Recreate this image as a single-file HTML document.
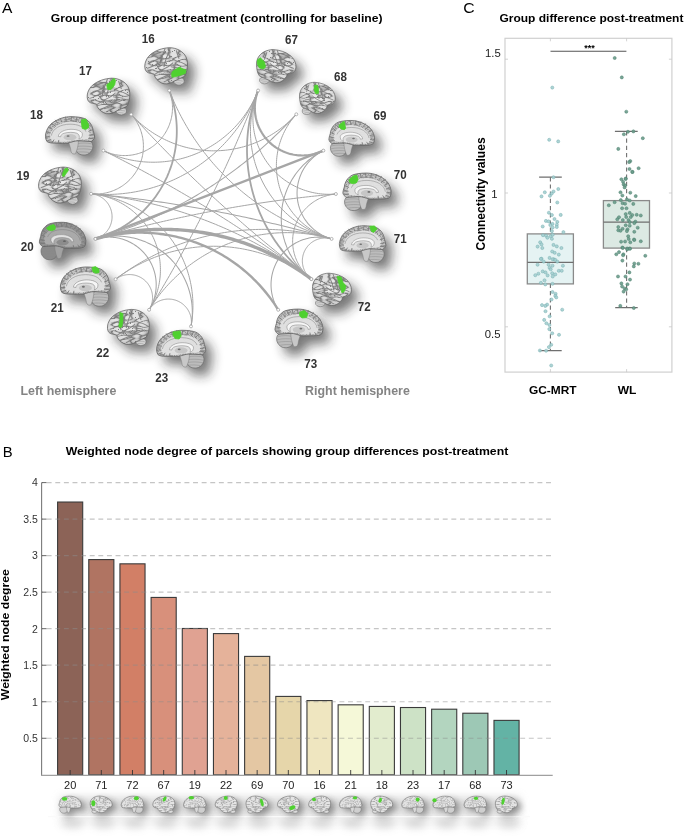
<!DOCTYPE html>
<html><head><meta charset="utf-8"><style>
html,body{margin:0;padding:0;background:#fff;}
svg{display:block;font-family:"Liberation Sans",sans-serif;will-change:transform;}
</style></head><body>
<svg width="685" height="836" viewBox="0 0 685 836">

<defs>
<filter id="gy" x="0" y="0" width="1" height="1">
  <feTurbulence type="turbulence" baseFrequency="0.05 0.085" numOctaves="1" seed="4" result="n"/>
  <feColorMatrix in="n" type="matrix" values="0 0 0 0 0  0 0 0 0 0  0 0 0 0 0  1 0 0 0 0" result="a"/>
  <feComponentTransfer in="a" result="b"><feFuncA type="table" tableValues="0.85 0.45 0.1 0 0 0 0 0 0 0"/></feComponentTransfer>
  <feGaussianBlur in="b" stdDeviation="0.7" result="bb"/>
  <feFlood flood-color="#6e6e6e"/>
  <feComposite in2="bb" operator="in" result="c"/>
  <feComposite in="c" in2="SourceAlpha" operator="in"/>
</filter>
<filter id="gy2" x="0" y="0" width="1" height="1">
  <feTurbulence type="fractalNoise" baseFrequency="0.05 0.08" numOctaves="2" seed="9" result="n"/>
  <feColorMatrix in="n" type="matrix" values="0 0 0 0 0  0 0 0 0 0  0 0 0 0 0  1 0 0 0 0" result="a"/>
  <feComponentTransfer in="a" result="b"><feFuncA type="table" tableValues="0 0 0.7 0 0 0.7 0 0 0.7 0 0 0.7 0 0 0.7 0 0 0.7 0 0 0.7 0 0"/></feComponentTransfer>
  <feFlood flood-color="#7a7a7a"/>
  <feComposite in2="b" operator="in" result="c"/>
  <feComposite in="c" in2="SourceAlpha" operator="in"/>
</filter>
<filter id="sh" x="-50%" y="-50%" width="200%" height="200%"><feGaussianBlur stdDeviation="6"/></filter>
<filter id="shs" x="-50%" y="-50%" width="200%" height="200%"><feGaussianBlur stdDeviation="3"/></filter>
<filter id="hz" x="-20%" y="-100%" width="140%" height="300%"><feGaussianBlur stdDeviation="4"/></filter>
<radialGradient id="gl" cx="45%" cy="40%" r="65%"><stop offset="0" stop-color="#eeeeee"/><stop offset="0.7" stop-color="#dddddd"/><stop offset="1" stop-color="#b4b4b4"/></radialGradient>
<radialGradient id="gm" cx="45%" cy="45%" r="65%"><stop offset="0" stop-color="#e4e4e4"/><stop offset="0.75" stop-color="#d0d0d0"/><stop offset="1" stop-color="#9a9a9a"/></radialGradient>
<radialGradient id="gd" cx="45%" cy="45%" r="65%"><stop offset="0" stop-color="#b8b8b8"/><stop offset="1" stop-color="#8a8a8a"/></radialGradient>
<path id="latO" d="M3,57 C0,45 4,30 14,19 C26,7 42,1 58,0 C75,0 90,10 96,24 C100,34 100,44 99,52 C98,62 96,70 92,76 C85,80 76,84 69,88 C62,94 54,96 46,95 C38,93 30,86 26,78 C24,74 24,71 24,70 C20,68 15,68 10,66 C6,64 4,61 3,57 Z"/>
<ellipse id="latCb" cx="80" cy="88" rx="12" ry="10.5"/>
<g id="latS" fill="none" stroke="#7a7a7a" stroke-width="2.6" stroke-linecap="round" stroke-linejoin="round" opacity="0.85">
<path d="M25,70 C34,62 44,56 52,52 C58,49 62,44 66,40"/>
<path d="M32,84 C44,78 54,72 64,68 C72,64 80,60 88,56"/>
<path d="M60,2 C57,12 54,20 51,28 C49,36 47,42 46,50"/>
<path d="M48,3 C46,12 43,20 40,28 C38,34 37,40 36,50"/>
<path d="M10,42 C16,38 22,36 28,32 C32,30 36,26 42,22"/>
<path d="M8,54 C14,52 20,48 26,46 C30,44 33,42 38,38"/>
<path d="M18,22 C24,18 30,15 38,12"/>
<path d="M74,8 C76,16 78,22 80,28"/>
<path d="M66,30 C72,34 78,38 84,38 C88,40 92,42 97,46"/>
<path d="M62,50 C70,52 76,52 84,54"/>
<path d="M78,74 C84,72 90,72 95,68"/>
<path d="M46,90 C54,86 60,82 66,78"/>
</g>
<path id="medO" d="M0,48 C2,30 10,20 16,15 C28,5 40,1 52,1 C64,1 74,3 80,6 C90,12 96,24 97,37 C99,44 100,50 100,53 C99,58 96,62 93,64 C85,64 75,62 67,62 C60,62 52,66 46,68 C40,69 30,68 19,68 C12,68 6,67 3,64 C0,58 0,52 0,48 Z"/>
<path id="medCb" d="M62,66 C70,59 87,59 94,66 C99,74 97,90 85,97 C77,100 68,98 64,90 C60,82 60,72 62,66 Z"/>
<path id="medBs" d="M44,58 C52,55 62,57 67,62 C67,72 65,84 61,95 C57,97 53,95 52,89 C51,79 48,68 44,58 Z"/>
<g id="medS" fill="none" stroke="#7a7a7a" stroke-width="2" stroke-linecap="round">
<path d="M20,10 L25,18 M30,5 L33,14 M41,2 L42,12 M53,2 L52,12 M64,3 L62,13 M75,6 L71,15 M85,12 L79,20 M92,22 L85,28 M96,34 L88,38 M98,46 L89,48 M97,56 L88,56 M12,18 L19,24 M6,28 L13,32 M2,40 L10,42 M1,52 L9,52 M4,62 L11,59 M14,66 L17,60 M26,67 L27,61"/>
<path d="M12,48 C14,32 30,20 50,20 C66,20 78,26 82,38" stroke-width="1.6" opacity="0.7"/>
</g>
<path id="medWM" d="M9,50 C10,34 26,16 48,14 C66,13 82,20 88,34 C91,42 90,52 87,58 C80,60 72,58 66,60 C58,60 50,62 44,64 C36,65 26,64 18,64 C12,63 9,58 9,50 Z"/>
<path id="medCC" d="M26,51 C27,40 40,33 52,33 C64,33 73,37 75,44 C76,50 73,56 68,58 C70,52 69,46 64,43 C57,40 46,40 38,43 C33,45 31,48 31,52 Z"/>
<ellipse id="medTh" cx="50" cy="53" rx="13" ry="8"/>
</defs>
<rect width="685" height="836" fill="#fff"/>
<text x="2.1" y="13.1" font-size="13.8" font-weight="normal" fill="#000" text-anchor="start" textLength="10.4" lengthAdjust="spacingAndGlyphs" >A</text>
<text x="50.8" y="21.6" font-size="11" font-weight="bold" fill="#000" text-anchor="start" textLength="331.7" lengthAdjust="spacingAndGlyphs" >Group difference post-treatment (controlling for baseline)</text>
<g filter="url(#sh)" opacity="0.62"><g transform="translate(7,8)"><g transform="translate(143.90,47.70) scale(0.4380,0.3800)" fill="#222"><use href="#latO"/><use href="#latCb"/></g></g></g>
<g transform="translate(143.90,47.70) scale(0.4380,0.3800)">
<use href="#latCb" fill="#d2d2d2" stroke="#6a6a6a" stroke-width="1.6"/>
<path d="M67,82 C74,80 82,80 88,82 M66,88 C74,86 82,86 89,88 M68,94 C74,92 80,92 86,94" fill="none" stroke="#9a9a9a" stroke-width="1.4"/>
<use href="#latO" fill="url(#gl)" stroke="#5a5a5a" stroke-width="1.8"/>
<use href="#latO" filter="url(#gy)"/>
<use href="#latS"/>
</g>
<path d="M171.5,74.2 L172.4,71.5 L179.4,67.1 L182.9,68.9 L186.0,69.8 L185.5,73.3 L181.2,75.0 L175.0,76.8 L172.0,77.2 Z" fill="#4fd130" stroke="#4fd130" stroke-width="0.8" stroke-linejoin="round"/>
<g filter="url(#sh)" opacity="0.62"><g transform="translate(7,8)"><g transform="translate(86.30,78.20) scale(0.4370,0.3730)" fill="#222"><use href="#latO"/><use href="#latCb"/></g></g></g>
<g transform="translate(86.30,78.20) scale(0.4370,0.3730)">
<use href="#latCb" fill="#d2d2d2" stroke="#6a6a6a" stroke-width="1.6"/>
<path d="M67,82 C74,80 82,80 88,82 M66,88 C74,86 82,86 89,88 M68,94 C74,92 80,92 86,94" fill="none" stroke="#9a9a9a" stroke-width="1.4"/>
<use href="#latO" fill="url(#gl)" stroke="#5a5a5a" stroke-width="1.8"/>
<use href="#latO" filter="url(#gy)"/>
<use href="#latS"/>
</g>
<path d="M106.7,84.8 L110.4,81.9 L114.0,78.2 L115.5,80.4 L114.7,84.8 L112.6,87.7 L110.4,89.9 L107.4,89.2 Z" fill="#4fd130" stroke="#4fd130" stroke-width="0.8" stroke-linejoin="round"/>
<g filter="url(#sh)" opacity="0.62"><g transform="translate(7,8)"><g transform="translate(45.50,116.30) scale(0.4910,0.3940)" fill="#222"><use href="#medO"/><use href="#medCb"/><use href="#medBs"/></g></g></g>
<g transform="translate(45.50,116.30) scale(0.4910,0.3940)">
<use href="#medCb" fill="#bcbcbc" stroke="#6a6a6a" stroke-width="1.6"/>
<path d="M64,70 C72,67 84,67 94,70 M62,77 C72,75 84,75 96,78 M62,84 C72,82 84,82 95,85 M65,91 C72,90 80,90 89,92" fill="none" stroke="#888" stroke-width="1.3" opacity="0.8"/>
<use href="#medBs" fill="#c8c8c8" stroke="#7a7a7a" stroke-width="1.1"/>
<use href="#medO" fill="#c4c4c4" stroke="#5a5a5a" stroke-width="1.8"/>
<use href="#medO" filter="url(#gy2)"/>
<use href="#medWM" fill="#e2e2e2" opacity="0.95"/>
<use href="#medS"/>
<use href="#medTh" fill="#c6c6c6"/>
<use href="#medCC" fill="#f6f6f6" stroke="#7a7a7a" stroke-width="1.1"/>
<ellipse cx="46" cy="50" rx="3" ry="2.2" fill="#5a5a5a" opacity="0.8"/>
</g>
<path d="M81.5,119.8 L85.8,118.9 L88.5,124.2 L88.5,127.7 L85.8,129.4 L82.3,128.5 L81.5,124.2 Z" fill="#4fd130" stroke="#4fd130" stroke-width="0.8" stroke-linejoin="round"/>
<g filter="url(#sh)" opacity="0.62"><g transform="translate(7,8)"><g transform="translate(37.70,167.10) scale(0.4380,0.3770)" fill="#222"><use href="#latO"/><use href="#latCb"/></g></g></g>
<g transform="translate(37.70,167.10) scale(0.4380,0.3770)">
<use href="#latCb" fill="#d2d2d2" stroke="#6a6a6a" stroke-width="1.6"/>
<path d="M67,82 C74,80 82,80 88,82 M66,88 C74,86 82,86 89,88 M68,94 C74,92 80,92 86,94" fill="none" stroke="#9a9a9a" stroke-width="1.4"/>
<use href="#latO" fill="url(#gl)" stroke="#5a5a5a" stroke-width="1.8"/>
<use href="#latO" filter="url(#gy)"/>
<use href="#latS"/>
</g>
<path d="M64.8,168.8 L67.4,168.0 L68.3,170.6 L65.7,174.1 L63.9,176.7 L62.2,175.8 L63.1,172.3 Z" fill="#4fd130" stroke="#4fd130" stroke-width="0.8" stroke-linejoin="round"/>
<g filter="url(#sh)" opacity="0.62"><g transform="translate(7,8)"><g transform="translate(85.80,221.90) scale(-0.4640,0.3850)" fill="#222"><use href="#medO"/><use href="#medCb"/><use href="#medBs"/></g></g></g>
<g transform="translate(85.80,221.90) scale(-0.4640,0.3850)">
<use href="#medCb" fill="#8a8a8a" stroke="#6a6a6a" stroke-width="1.6"/>
<path d="M64,70 C72,67 84,67 94,70 M62,77 C72,75 84,75 96,78 M62,84 C72,82 84,82 95,85 M65,91 C72,90 80,90 89,92" fill="none" stroke="#888" stroke-width="1.3" opacity="0.8"/>
<use href="#medBs" fill="#a2a2a2" stroke="#7a7a7a" stroke-width="1.1"/>
<use href="#medO" fill="#929292" stroke="#5a5a5a" stroke-width="1.8"/>
<use href="#medO" filter="url(#gy2)"/>
<use href="#medWM" fill="#acacac" opacity="0.95"/>
<use href="#medS"/>
<use href="#medTh" fill="#8c8c8c"/>
<use href="#medCC" fill="#e2e2e2" stroke="#7a7a7a" stroke-width="1.1"/>
<ellipse cx="46" cy="50" rx="3" ry="2.2" fill="#5a5a5a" opacity="0.8"/>
</g>
<path d="M46.4,228.1 L50.3,225.5 L53.8,224.5 L55.3,226.4 L55.1,229.4 L51.6,230.8 L48.1,229.9 Z" fill="#4fd130" stroke="#4fd130" stroke-width="0.8" stroke-linejoin="round"/>
<g filter="url(#sh)" opacity="0.62"><g transform="translate(7,8)"><g transform="translate(60.40,266.60) scale(0.5000,0.4030)" fill="#222"><use href="#medO"/><use href="#medCb"/><use href="#medBs"/></g></g></g>
<g transform="translate(60.40,266.60) scale(0.5000,0.4030)">
<use href="#medCb" fill="#bcbcbc" stroke="#6a6a6a" stroke-width="1.6"/>
<path d="M64,70 C72,67 84,67 94,70 M62,77 C72,75 84,75 96,78 M62,84 C72,82 84,82 95,85 M65,91 C72,90 80,90 89,92" fill="none" stroke="#888" stroke-width="1.3" opacity="0.8"/>
<use href="#medBs" fill="#c8c8c8" stroke="#7a7a7a" stroke-width="1.1"/>
<use href="#medO" fill="#c4c4c4" stroke="#5a5a5a" stroke-width="1.8"/>
<use href="#medO" filter="url(#gy2)"/>
<use href="#medWM" fill="#e2e2e2" opacity="0.95"/>
<use href="#medS"/>
<use href="#medTh" fill="#c6c6c6"/>
<use href="#medCC" fill="#f6f6f6" stroke="#7a7a7a" stroke-width="1.1"/>
<ellipse cx="46" cy="50" rx="3" ry="2.2" fill="#5a5a5a" opacity="0.8"/>
</g>
<path d="M92.0,267.4 L95.5,266.6 L99.0,269.2 L99.0,272.7 L95.5,273.2 L92.9,271.8 Z" fill="#4fd130" stroke="#4fd130" stroke-width="0.8" stroke-linejoin="round"/>
<g filter="url(#sh)" opacity="0.62"><g transform="translate(7,8)"><g transform="translate(106.60,309.40) scale(0.4290,0.3680)" fill="#222"><use href="#latO"/><use href="#latCb"/></g></g></g>
<g transform="translate(106.60,309.40) scale(0.4290,0.3680)">
<use href="#latCb" fill="#d2d2d2" stroke="#6a6a6a" stroke-width="1.6"/>
<path d="M67,82 C74,80 82,80 88,82 M66,88 C74,86 82,86 89,88 M68,94 C74,92 80,92 86,94" fill="none" stroke="#9a9a9a" stroke-width="1.4"/>
<use href="#latO" fill="url(#gl)" stroke="#5a5a5a" stroke-width="1.8"/>
<use href="#latO" filter="url(#gy)"/>
<use href="#latS"/>
</g>
<path d="M119.9,312.5 L122.9,313.5 L122.9,320.7 L121.9,326.8 L119.9,327.8 L118.8,325.8 L119.9,320.7 Z" fill="#4fd130" stroke="#4fd130" stroke-width="0.8" stroke-linejoin="round"/>
<g filter="url(#sh)" opacity="0.62"><g transform="translate(7,8)"><g transform="translate(156.60,329.90) scale(0.4910,0.3880)" fill="#222"><use href="#medO"/><use href="#medCb"/><use href="#medBs"/></g></g></g>
<g transform="translate(156.60,329.90) scale(0.4910,0.3880)">
<use href="#medCb" fill="#bcbcbc" stroke="#6a6a6a" stroke-width="1.6"/>
<path d="M64,70 C72,67 84,67 94,70 M62,77 C72,75 84,75 96,78 M62,84 C72,82 84,82 95,85 M65,91 C72,90 80,90 89,92" fill="none" stroke="#888" stroke-width="1.3" opacity="0.8"/>
<use href="#medBs" fill="#c8c8c8" stroke="#7a7a7a" stroke-width="1.1"/>
<use href="#medO" fill="#c4c4c4" stroke="#5a5a5a" stroke-width="1.8"/>
<use href="#medO" filter="url(#gy2)"/>
<use href="#medWM" fill="#e2e2e2" opacity="0.95"/>
<use href="#medS"/>
<use href="#medTh" fill="#c6c6c6"/>
<use href="#medCC" fill="#f6f6f6" stroke="#7a7a7a" stroke-width="1.1"/>
<ellipse cx="46" cy="50" rx="3" ry="2.2" fill="#5a5a5a" opacity="0.8"/>
</g>
<path d="M173.0,331.9 L180.1,330.9 L181.2,336.0 L179.1,339.0 L175.0,338.6 L173.0,335.0 Z" fill="#4fd130" stroke="#4fd130" stroke-width="0.8" stroke-linejoin="round"/>
<g filter="url(#sh)" opacity="0.62"><g transform="translate(7,8)"><g transform="translate(296.80,49.60) scale(-0.4050,0.3480)" fill="#222"><use href="#latO"/><use href="#latCb"/></g></g></g>
<g transform="translate(296.80,49.60) scale(-0.4050,0.3480)">
<use href="#latCb" fill="#d2d2d2" stroke="#6a6a6a" stroke-width="1.6"/>
<path d="M67,82 C74,80 82,80 88,82 M66,88 C74,86 82,86 89,88 M68,94 C74,92 80,92 86,94" fill="none" stroke="#9a9a9a" stroke-width="1.4"/>
<use href="#latO" fill="url(#gl)" stroke="#5a5a5a" stroke-width="1.8"/>
<use href="#latO" filter="url(#gy)"/>
<use href="#latS"/>
</g>
<path d="M257.4,59.9 L260.4,57.8 L264.5,61.9 L265.5,67.0 L263.5,69.0 L259.4,68.0 L257.4,63.9 Z" fill="#4fd130" stroke="#4fd130" stroke-width="0.8" stroke-linejoin="round"/>
<g filter="url(#sh)" opacity="0.62"><g transform="translate(7,8)"><g transform="translate(336.00,82.30) scale(-0.3670,0.3270)" fill="#222"><use href="#latO"/><use href="#latCb"/></g></g></g>
<g transform="translate(336.00,82.30) scale(-0.3670,0.3270)">
<use href="#latCb" fill="#d2d2d2" stroke="#6a6a6a" stroke-width="1.6"/>
<path d="M67,82 C74,80 82,80 88,82 M66,88 C74,86 82,86 89,88 M68,94 C74,92 80,92 86,94" fill="none" stroke="#9a9a9a" stroke-width="1.4"/>
<use href="#latO" fill="url(#gl)" stroke="#5a5a5a" stroke-width="1.8"/>
<use href="#latO" filter="url(#gy)"/>
<use href="#latS"/>
</g>
<path d="M314.6,85.4 L317.3,85.0 L318.7,89.5 L318.3,93.6 L315.6,93.6 L314.0,89.5 Z" fill="#4fd130" stroke="#4fd130" stroke-width="0.8" stroke-linejoin="round"/>
<g filter="url(#sh)" opacity="0.62"><g transform="translate(7,8)"><g transform="translate(374.50,120.10) scale(-0.4560,0.3680)" fill="#222"><use href="#medO"/><use href="#medCb"/><use href="#medBs"/></g></g></g>
<g transform="translate(374.50,120.10) scale(-0.4560,0.3680)">
<use href="#medCb" fill="#bcbcbc" stroke="#6a6a6a" stroke-width="1.6"/>
<path d="M64,70 C72,67 84,67 94,70 M62,77 C72,75 84,75 96,78 M62,84 C72,82 84,82 95,85 M65,91 C72,90 80,90 89,92" fill="none" stroke="#888" stroke-width="1.3" opacity="0.8"/>
<use href="#medBs" fill="#c8c8c8" stroke="#7a7a7a" stroke-width="1.1"/>
<use href="#medO" fill="#c4c4c4" stroke="#5a5a5a" stroke-width="1.8"/>
<use href="#medO" filter="url(#gy2)"/>
<use href="#medWM" fill="#e2e2e2" opacity="0.95"/>
<use href="#medS"/>
<use href="#medTh" fill="#c6c6c6"/>
<use href="#medCC" fill="#f6f6f6" stroke="#7a7a7a" stroke-width="1.1"/>
<ellipse cx="46" cy="50" rx="3" ry="2.2" fill="#5a5a5a" opacity="0.8"/>
</g>
<path d="M339.1,125.1 L343.0,121.8 L344.3,121.6 L345.7,128.4 L344.3,129.7 L341.1,129.1 L339.1,127.1 Z" fill="#4fd130" stroke="#4fd130" stroke-width="0.8" stroke-linejoin="round"/>
<g filter="url(#sh)" opacity="0.62"><g transform="translate(7,8)"><g transform="translate(391.10,172.70) scale(-0.4820,0.3850)" fill="#222"><use href="#medO"/><use href="#medCb"/><use href="#medBs"/></g></g></g>
<g transform="translate(391.10,172.70) scale(-0.4820,0.3850)">
<use href="#medCb" fill="#bcbcbc" stroke="#6a6a6a" stroke-width="1.6"/>
<path d="M64,70 C72,67 84,67 94,70 M62,77 C72,75 84,75 96,78 M62,84 C72,82 84,82 95,85 M65,91 C72,90 80,90 89,92" fill="none" stroke="#888" stroke-width="1.3" opacity="0.8"/>
<use href="#medBs" fill="#c8c8c8" stroke="#7a7a7a" stroke-width="1.1"/>
<use href="#medO" fill="#c4c4c4" stroke="#5a5a5a" stroke-width="1.8"/>
<use href="#medO" filter="url(#gy2)"/>
<use href="#medWM" fill="#e2e2e2" opacity="0.95"/>
<use href="#medS"/>
<use href="#medTh" fill="#c6c6c6"/>
<use href="#medCC" fill="#f6f6f6" stroke="#7a7a7a" stroke-width="1.1"/>
<ellipse cx="46" cy="50" rx="3" ry="2.2" fill="#5a5a5a" opacity="0.8"/>
</g>
<path d="M348.9,179.7 L353.6,175.8 L356.8,175.1 L358.2,179.7 L356.2,183.0 L352.2,183.7 L349.6,182.4 Z" fill="#4fd130" stroke="#4fd130" stroke-width="0.8" stroke-linejoin="round"/>
<g filter="url(#sh)" opacity="0.62"><g transform="translate(7,8)"><g transform="translate(339.40,225.40) scale(0.4640,0.3770)" fill="#222"><use href="#medO"/><use href="#medCb"/><use href="#medBs"/></g></g></g>
<g transform="translate(339.40,225.40) scale(0.4640,0.3770)">
<use href="#medCb" fill="#bcbcbc" stroke="#6a6a6a" stroke-width="1.6"/>
<path d="M64,70 C72,67 84,67 94,70 M62,77 C72,75 84,75 96,78 M62,84 C72,82 84,82 95,85 M65,91 C72,90 80,90 89,92" fill="none" stroke="#888" stroke-width="1.3" opacity="0.8"/>
<use href="#medBs" fill="#c8c8c8" stroke="#7a7a7a" stroke-width="1.1"/>
<use href="#medO" fill="#c4c4c4" stroke="#5a5a5a" stroke-width="1.8"/>
<use href="#medO" filter="url(#gy2)"/>
<use href="#medWM" fill="#e2e2e2" opacity="0.95"/>
<use href="#medS"/>
<use href="#medTh" fill="#c6c6c6"/>
<use href="#medCC" fill="#f6f6f6" stroke="#7a7a7a" stroke-width="1.1"/>
<ellipse cx="46" cy="50" rx="3" ry="2.2" fill="#5a5a5a" opacity="0.8"/>
</g>
<path d="M369.7,226.3 L374.5,225.9 L377.1,228.9 L373.6,232.4 L371.5,231.5 Z" fill="#4fd130" stroke="#4fd130" stroke-width="0.8" stroke-linejoin="round"/>
<g filter="url(#sh)" opacity="0.62"><g transform="translate(7,8)"><g transform="translate(352.20,273.20) scale(-0.3990,0.3400)" fill="#222"><use href="#latO"/><use href="#latCb"/></g></g></g>
<g transform="translate(352.20,273.20) scale(-0.3990,0.3400)">
<use href="#latCb" fill="#d2d2d2" stroke="#6a6a6a" stroke-width="1.6"/>
<path d="M67,82 C74,80 82,80 88,82 M66,88 C74,86 82,86 89,88 M68,94 C74,92 80,92 86,94" fill="none" stroke="#9a9a9a" stroke-width="1.4"/>
<use href="#latO" fill="url(#gl)" stroke="#5a5a5a" stroke-width="1.8"/>
<use href="#latO" filter="url(#gy)"/>
<use href="#latS"/>
</g>
<path d="M337.1,276.2 L341.2,277.1 L342.9,282.3 L345.9,285.8 L344.7,291.1 L342.0,292.9 L340.3,287.6 L338.5,282.3 Z" fill="#4fd130" stroke="#4fd130" stroke-width="0.8" stroke-linejoin="round"/>
<g filter="url(#sh)" opacity="0.62"><g transform="translate(7,8)"><g transform="translate(322.90,308.70) scale(-0.4790,0.3970)" fill="#222"><use href="#medO"/><use href="#medCb"/><use href="#medBs"/></g></g></g>
<g transform="translate(322.90,308.70) scale(-0.4790,0.3970)">
<use href="#medCb" fill="#bcbcbc" stroke="#6a6a6a" stroke-width="1.6"/>
<path d="M64,70 C72,67 84,67 94,70 M62,77 C72,75 84,75 96,78 M62,84 C72,82 84,82 95,85 M65,91 C72,90 80,90 89,92" fill="none" stroke="#888" stroke-width="1.3" opacity="0.8"/>
<use href="#medBs" fill="#c8c8c8" stroke="#7a7a7a" stroke-width="1.1"/>
<use href="#medO" fill="#c4c4c4" stroke="#5a5a5a" stroke-width="1.8"/>
<use href="#medO" filter="url(#gy2)"/>
<use href="#medWM" fill="#e2e2e2" opacity="0.95"/>
<use href="#medS"/>
<use href="#medTh" fill="#c6c6c6"/>
<use href="#medCC" fill="#f6f6f6" stroke="#7a7a7a" stroke-width="1.1"/>
<ellipse cx="46" cy="50" rx="3" ry="2.2" fill="#5a5a5a" opacity="0.8"/>
</g>
<path d="M299.6,312.2 L304.2,310.6 L307.7,313.4 L306.6,317.6 L301.9,318.0 L299.6,315.7 Z" fill="#4fd130" stroke="#4fd130" stroke-width="0.8" stroke-linejoin="round"/>
<g fill="none" stroke="#a6a6a6" stroke-linecap="round">
<path d="M95.40,238.90 L98.14,238.13 L100.89,237.39 L103.65,236.69 L106.42,236.01 L109.19,235.37 L111.97,234.76 L114.76,234.18 L117.55,233.63 L120.35,233.12 L123.16,232.64 L125.97,232.19 L128.79,231.78 L131.61,231.40 L134.44,231.05 L137.27,230.73 L140.10,230.44 L142.94,230.19 L145.77,229.97 L148.62,229.79 L151.46,229.64 L154.30,229.52 L157.15,229.43 L160.00,229.38 L162.84,229.35 L165.69,229.37 L168.54,229.41 L171.38,229.49 L174.23,229.60 L177.07,229.75 L179.91,229.92 L182.75,230.13 L185.59,230.38 L188.42,230.65 L191.26,230.96 L194.08,231.30 L196.90,231.68 L199.72,232.08 L202.54,232.52 L205.34,233.00 L208.15,233.50 L210.94,234.04 L213.73,234.61 L216.51,235.21 L219.29,235.84 L222.06,236.51 L224.82,237.21 L227.57,237.94 L230.31,238.70 L233.05,239.49 L235.77,240.32 L238.49,241.18 L241.19,242.07 L243.89,242.98 L246.57,243.94 L249.25,244.92 L251.91,245.93 L254.56,246.97 L257.19,248.05 L259.82,249.15 L262.43,250.29 L265.03,251.45 L267.61,252.65 L270.18,253.87 L272.74,255.13 L275.28,256.41 L277.80,257.73 L280.31,259.07 L282.81,260.44 L285.29,261.84 L287.75,263.27 L290.20,264.73 L292.62,266.22 L295.04,267.73 L297.43,269.27 L299.80,270.84 L302.16,272.44 L304.50,274.07 L306.82,275.72 L309.12,277.40 L311.40,279.10" stroke-width="3.4"/>
<path d="M95.40,238.90 L97.94,238.20 L100.48,237.53 L103.04,236.91 L105.61,236.34 L108.18,235.80 L110.77,235.30 L113.36,234.85 L115.96,234.44 L118.56,234.07 L121.18,233.74 L123.79,233.46 L126.41,233.21 L129.04,233.01 L131.66,232.86 L134.29,232.74 L136.92,232.67 L139.55,232.64 L142.18,232.66 L144.82,232.71 L147.45,232.81 L150.07,232.95 L152.70,233.14 L155.32,233.36 L157.94,233.63 L160.55,233.94 L163.16,234.30 L165.76,234.69 L168.35,235.13 L170.94,235.61 L173.52,236.13 L176.09,236.70 L178.65,237.30 L181.20,237.95 L183.74,238.64 L186.27,239.37 L188.79,240.14 L191.29,240.95 L193.78,241.80 L196.26,242.69 L198.72,243.62 L201.16,244.59 L203.59,245.61 L206.01,246.66 L208.40,247.75 L210.78,248.87 L213.14,250.04 L215.48,251.24 L217.80,252.49 L220.10,253.77 L222.37,255.08 L224.63,256.44 L226.87,257.83 L229.08,259.25 L231.27,260.71 L233.43,262.21 L235.57,263.74 L237.68,265.31 L239.77,266.91 L241.84,268.54 L243.87,270.21 L245.88,271.91 L247.86,273.64 L249.81,275.41 L251.74,277.20 L253.63,279.03 L255.50,280.89 L257.33,282.77 L259.13,284.69 L260.90,286.64 L262.64,288.61 L264.35,290.61 L266.03,292.64 L267.67,294.70 L269.28,296.78 L270.85,298.89 L272.39,301.02 L273.90,303.18 L275.37,305.36 L276.80,307.57 L278.20,309.80" stroke-width="2.4"/>
<path d="M95.40,238.90 L323.40,150.60" stroke-width="2.4"/>
<path d="M258.10,90.50 L257.60,91.84 L257.14,93.19 L256.72,94.56 L256.34,95.93 L256.00,97.32 L255.70,98.72 L255.45,100.12 L255.23,101.54 L255.07,102.96 L254.94,104.38 L254.85,105.81 L254.81,107.23 L254.81,108.66 L254.86,110.09 L254.95,111.52 L255.08,112.94 L255.25,114.36 L255.47,115.77 L255.72,117.18 L256.02,118.57 L256.36,119.96 L256.75,121.34 L257.17,122.70 L257.64,124.05 L258.14,125.39 L258.69,126.71 L259.27,128.01 L259.90,129.30 L260.56,130.57 L261.26,131.81 L261.99,133.04 L262.77,134.24 L263.57,135.42 L264.42,136.57 L265.30,137.70 L266.21,138.80 L267.15,139.87 L268.13,140.91 L269.13,141.93 L270.17,142.91 L271.24,143.86 L272.33,144.78 L273.45,145.67 L274.60,146.52 L275.77,147.34 L276.97,148.12 L278.19,148.86 L279.43,149.57 L280.69,150.24 L281.97,150.87 L283.27,151.47 L284.59,152.02 L285.92,152.54 L287.27,153.01 L288.63,153.45 L290.00,153.84 L291.39,154.19 L292.78,154.50 L294.18,154.77 L295.60,154.99 L297.01,155.18 L298.43,155.32 L299.86,155.42 L301.29,155.47 L302.72,155.48 L304.14,155.45 L305.57,155.38 L307.00,155.26 L308.42,155.10 L309.83,154.90 L311.24,154.66 L312.64,154.37 L314.03,154.04 L315.41,153.67 L316.78,153.26 L318.13,152.81 L319.47,152.32 L320.80,151.78 L322.11,151.21 L323.40,150.60" stroke-width="2.2"/>
<path d="M169.30,90.50 L170.12,92.68 L170.89,94.88 L171.61,97.10 L172.29,99.33 L172.92,101.57 L173.50,103.83 L174.04,106.10 L174.53,108.37 L174.98,110.66 L175.37,112.96 L175.72,115.26 L176.02,117.57 L176.27,119.89 L176.48,122.21 L176.63,124.54 L176.74,126.87 L176.80,129.20 L176.81,131.53 L176.77,133.86 L176.69,136.19 L176.56,138.51 L176.37,140.84 L176.14,143.16 L175.86,145.47 L175.54,147.78 L175.16,150.08 L174.74,152.37 L174.27,154.65 L173.76,156.93 L173.19,159.19 L172.58,161.44 L171.93,163.67 L171.22,165.90 L170.47,168.10 L169.68,170.29 L168.84,172.47 L167.95,174.62 L167.03,176.76 L166.05,178.88 L165.03,180.98 L163.97,183.05 L162.87,185.10 L161.72,187.13 L160.54,189.14 L159.31,191.12 L158.04,193.07 L156.73,195.00 L155.38,196.90 L153.99,198.77 L152.56,200.62 L151.10,202.43 L149.59,204.21 L148.06,205.96 L146.48,207.68 L144.87,209.36 L143.23,211.01 L141.55,212.63 L139.83,214.21 L138.09,215.76 L136.31,217.27 L134.51,218.74 L132.67,220.17 L130.80,221.57 L128.91,222.92 L126.98,224.24 L125.03,225.52 L123.06,226.75 L121.06,227.95 L119.03,229.10 L116.98,230.21 L114.91,231.28 L112.82,232.31 L110.70,233.29 L108.57,234.22 L106.42,235.12 L104.25,235.96 L102.06,236.77 L99.85,237.52 L97.63,238.24 L95.40,238.90" stroke-width="1.8"/>
<path d="M169.30,90.50 L169.80,91.85 L170.25,93.21 L170.66,94.58 L171.04,95.97 L171.37,97.36 L171.66,98.77 L171.90,100.18 L172.11,101.60 L172.27,103.03 L172.39,104.46 L172.46,105.89 L172.50,107.32 L172.49,108.76 L172.43,110.19 L172.34,111.62 L172.20,113.05 L172.02,114.47 L171.79,115.89 L171.53,117.30 L171.22,118.70 L170.87,120.09 L170.48,121.47 L170.04,122.84 L169.57,124.20 L169.05,125.54 L168.50,126.86 L167.90,128.16 L167.27,129.45 L166.60,130.72 L165.89,131.97 L165.15,133.19 L164.36,134.40 L163.55,135.58 L162.69,136.73 L161.81,137.86 L160.89,138.96 L159.93,140.03 L158.95,141.07 L157.93,142.09 L156.89,143.07 L155.81,144.02 L154.71,144.94 L153.58,145.82 L152.43,146.67 L151.25,147.49 L150.04,148.27 L148.81,149.01 L147.56,149.72 L146.29,150.39 L145.01,151.02 L143.70,151.61 L142.37,152.16 L141.03,152.67 L139.68,153.14 L138.31,153.57 L136.93,153.96 L135.54,154.31 L134.14,154.62 L132.73,154.88 L131.31,155.10 L129.88,155.28 L128.46,155.42 L127.02,155.51 L125.59,155.56 L124.16,155.57 L122.72,155.53 L121.29,155.45 L119.86,155.33 L118.43,155.16 L117.01,154.96 L115.60,154.71 L114.20,154.42 L112.80,154.08 L111.42,153.71 L110.04,153.29 L108.68,152.83 L107.34,152.33 L106.01,151.80 L104.70,151.22 L103.40,150.60" stroke-width="1.0"/>
<path d="M169.30,90.50 L170.34,93.15 L171.41,95.79 L172.52,98.42 L173.65,101.03 L174.81,103.63 L176.01,106.22 L177.23,108.79 L178.48,111.35 L179.76,113.90 L181.08,116.43 L182.42,118.94 L183.79,121.44 L185.18,123.92 L186.61,126.39 L188.06,128.84 L189.55,131.27 L191.06,133.68 L192.60,136.08 L194.16,138.46 L195.76,140.82 L197.38,143.17 L199.03,145.49 L200.70,147.80 L202.40,150.08 L204.13,152.35 L205.88,154.59 L207.66,156.82 L209.46,159.02 L211.29,161.21 L213.15,163.37 L215.03,165.51 L216.93,167.63 L218.86,169.73 L220.81,171.80 L222.79,173.85 L224.79,175.88 L226.81,177.89 L228.86,179.87 L230.93,181.83 L233.02,183.76 L235.13,185.67 L237.27,187.56 L239.43,189.42 L241.61,191.26 L243.80,193.07 L246.02,194.85 L248.27,196.61 L250.53,198.34 L252.81,200.05 L255.11,201.73 L257.43,203.39 L259.77,205.01 L262.12,206.62 L264.50,208.19 L266.89,209.73 L269.30,211.25 L271.73,212.74 L274.18,214.20 L276.64,215.64 L279.12,217.04 L281.61,218.42 L284.12,219.77 L286.65,221.08 L289.19,222.37 L291.74,223.63 L294.31,224.86 L296.90,226.06 L299.49,227.24 L302.10,228.38 L304.73,229.49 L307.36,230.57 L310.01,231.62 L312.67,232.64 L315.34,233.62 L318.03,234.58 L320.72,235.51 L323.43,236.40 L326.14,237.27 L328.87,238.10 L331.60,238.90" stroke-width="1.0"/>
<path d="M131.20,114.40 L132.14,115.48 L133.05,116.59 L133.92,117.72 L134.76,118.88 L135.57,120.06 L136.34,121.27 L137.07,122.50 L137.76,123.75 L138.42,125.02 L139.04,126.31 L139.62,127.62 L140.16,128.95 L140.66,130.29 L141.12,131.64 L141.54,133.01 L141.92,134.39 L142.25,135.78 L142.55,137.18 L142.80,138.59 L143.01,140.01 L143.18,141.43 L143.30,142.86 L143.38,144.28 L143.42,145.72 L143.42,147.15 L143.37,148.58 L143.28,150.01 L143.15,151.43 L142.97,152.85 L142.76,154.27 L142.50,155.67 L142.19,157.07 L141.85,158.46 L141.46,159.84 L141.04,161.21 L140.57,162.56 L140.06,163.90 L139.52,165.22 L138.93,166.53 L138.30,167.81 L137.64,169.08 L136.94,170.33 L136.20,171.55 L135.42,172.76 L134.61,173.94 L133.76,175.09 L132.88,176.22 L131.97,177.32 L131.02,178.39 L130.04,179.44 L129.03,180.45 L128.00,181.44 L126.93,182.39 L125.83,183.31 L124.71,184.20 L123.56,185.05 L122.38,185.87 L121.18,186.65 L119.96,187.40 L118.72,188.10 L117.46,188.78 L116.17,189.41 L114.87,190.00 L113.55,190.56 L112.21,191.07 L110.86,191.55 L109.50,191.98 L108.12,192.38 L106.74,192.73 L105.34,193.04 L103.93,193.31 L102.52,193.53 L101.10,193.72 L99.68,193.86 L98.25,193.95 L96.82,194.01 L95.39,194.02 L93.96,193.99 L92.53,193.92 L91.10,193.80" stroke-width="1.0"/>
<path d="M131.20,114.40 L132.78,116.10 L134.40,117.77 L136.05,119.40 L137.74,121.00 L139.46,122.56 L141.21,124.09 L142.99,125.58 L144.80,127.03 L146.64,128.44 L148.52,129.82 L150.41,131.15 L152.34,132.45 L154.30,133.71 L156.27,134.92 L158.28,136.10 L160.31,137.23 L162.36,138.32 L164.43,139.36 L166.53,140.37 L168.64,141.33 L170.78,142.24 L172.93,143.11 L175.10,143.94 L177.29,144.72 L179.49,145.45 L181.71,146.14 L183.94,146.79 L186.19,147.38 L188.44,147.93 L190.71,148.43 L192.99,148.89 L195.28,149.29 L197.57,149.65 L199.87,149.97 L202.18,150.23 L204.49,150.44 L206.81,150.61 L209.13,150.73 L211.45,150.80 L213.77,150.83 L216.09,150.80 L218.42,150.73 L220.74,150.60 L223.05,150.43 L225.36,150.22 L227.67,149.95 L229.97,149.63 L232.27,149.27 L234.55,148.86 L236.83,148.40 L239.10,147.90 L241.35,147.35 L243.60,146.75 L245.83,146.10 L248.05,145.41 L250.25,144.68 L252.44,143.89 L254.61,143.06 L256.76,142.19 L258.89,141.27 L261.01,140.31 L263.10,139.31 L265.17,138.26 L267.22,137.16 L269.25,136.03 L271.25,134.85 L273.23,133.64 L275.18,132.38 L277.11,131.08 L279.00,129.74 L280.87,128.36 L282.71,126.94 L284.52,125.49 L286.30,124.00 L288.05,122.47 L289.77,120.91 L291.45,119.31 L293.10,117.67 L294.72,116.00 L296.30,114.30" stroke-width="1.0"/>
<path d="M131.20,114.40 L133.26,116.66 L135.32,118.91 L137.39,121.16 L139.46,123.41 L141.54,125.65 L143.62,127.88 L145.71,130.11 L147.81,132.34 L149.91,134.56 L152.01,136.78 L154.12,138.99 L156.24,141.19 L158.36,143.40 L160.48,145.59 L162.61,147.78 L164.75,149.97 L166.89,152.15 L169.03,154.33 L171.18,156.50 L173.34,158.67 L175.50,160.83 L177.66,162.98 L179.83,165.14 L182.01,167.28 L184.19,169.42 L186.37,171.56 L188.56,173.69 L190.76,175.82 L192.96,177.94 L195.16,180.05 L197.37,182.16 L199.59,184.27 L201.81,186.37 L204.03,188.47 L206.26,190.56 L208.49,192.64 L210.73,194.72 L212.98,196.80 L215.23,198.87 L217.48,200.93 L219.74,202.99 L222.00,205.04 L224.27,207.09 L226.54,209.14 L228.82,211.17 L231.10,213.21 L233.39,215.23 L235.68,217.26 L237.97,219.27 L240.27,221.28 L242.58,223.29 L244.89,225.29 L247.20,227.29 L249.52,229.28 L251.85,231.26 L254.17,233.24 L256.51,235.21 L258.84,237.18 L261.19,239.15 L263.53,241.10 L265.88,243.06 L268.24,245.00 L270.60,246.94 L272.96,248.88 L275.33,250.81 L277.71,252.74 L280.09,254.65 L282.47,256.57 L284.86,258.48 L287.25,260.38 L289.64,262.28 L292.04,264.17 L294.45,266.05 L296.86,267.93 L299.27,269.81 L301.69,271.68 L304.11,273.54 L306.53,275.40 L308.97,277.25 L311.40,279.10" stroke-width="1.0"/>
<path d="M103.40,150.60 L105.50,151.61 L107.63,152.58 L109.77,153.50 L111.93,154.38 L114.11,155.21 L116.30,156.00 L118.51,156.74 L120.74,157.44 L122.98,158.09 L125.23,158.69 L127.50,159.25 L129.78,159.76 L132.06,160.22 L134.36,160.64 L136.66,161.00 L138.97,161.32 L141.29,161.59 L143.61,161.82 L145.94,161.99 L148.27,162.12 L150.60,162.20 L152.93,162.23 L155.26,162.21 L157.60,162.14 L159.93,162.03 L162.25,161.86 L164.58,161.65 L166.89,161.39 L169.21,161.09 L171.51,160.73 L173.81,160.33 L176.10,159.88 L178.38,159.38 L180.65,158.83 L182.90,158.24 L185.15,157.60 L187.38,156.92 L189.59,156.19 L191.79,155.41 L193.97,154.59 L196.14,153.72 L198.29,152.81 L200.41,151.85 L202.52,150.85 L204.61,149.81 L206.67,148.72 L208.71,147.59 L210.73,146.42 L212.72,145.21 L214.69,143.96 L216.63,142.66 L218.55,141.33 L220.43,139.95 L222.29,138.54 L224.11,137.09 L225.91,135.60 L227.68,134.08 L229.41,132.52 L231.11,130.92 L232.78,129.29 L234.41,127.62 L236.01,125.92 L237.57,124.19 L239.10,122.43 L240.58,120.63 L242.04,118.80 L243.45,116.95 L244.82,115.06 L246.16,113.15 L247.46,111.21 L248.71,109.24 L249.92,107.25 L251.10,105.24 L252.23,103.20 L253.31,101.13 L254.36,99.05 L255.36,96.94 L256.32,94.81 L257.23,92.67 L258.10,90.50" stroke-width="1.0"/>
<path d="M103.40,150.60 L106.14,151.96 L108.88,153.32 L111.62,154.70 L114.35,156.07 L117.08,157.46 L119.81,158.85 L122.53,160.25 L125.25,161.65 L127.96,163.06 L130.68,164.48 L133.39,165.90 L136.09,167.33 L138.80,168.77 L141.50,170.21 L144.19,171.66 L146.88,173.12 L149.57,174.58 L152.26,176.05 L154.94,177.52 L157.62,179.00 L160.30,180.49 L162.97,181.98 L165.63,183.48 L168.30,184.99 L170.96,186.50 L173.62,188.02 L176.27,189.54 L178.92,191.07 L181.57,192.61 L184.21,194.16 L186.85,195.71 L189.49,197.26 L192.12,198.82 L194.75,200.39 L197.37,201.97 L199.99,203.55 L202.61,205.13 L205.22,206.73 L207.83,208.33 L210.44,209.93 L213.04,211.54 L215.64,213.16 L218.23,214.79 L220.82,216.42 L223.41,218.05 L225.99,219.69 L228.57,221.34 L231.15,223.00 L233.72,224.66 L236.28,226.33 L238.85,228.00 L241.41,229.68 L243.96,231.36 L246.51,233.05 L249.06,234.75 L251.60,236.45 L254.14,238.16 L256.68,239.88 L259.21,241.60 L261.74,243.32 L264.26,245.06 L266.78,246.80 L269.29,248.54 L271.80,250.29 L274.31,252.05 L276.81,253.81 L279.31,255.58 L281.80,257.35 L284.29,259.13 L286.78,260.92 L289.26,262.71 L291.74,264.51 L294.21,266.31 L296.68,268.12 L299.14,269.94 L301.60,271.76 L304.06,273.58 L306.51,275.42 L308.96,277.26 L311.40,279.10" stroke-width="1.0"/>
<path d="M91.10,193.80 L93.72,194.02 L96.35,194.20 L98.98,194.33 L101.61,194.42 L104.25,194.47 L106.88,194.48 L109.51,194.44 L112.15,194.36 L114.78,194.24 L117.41,194.08 L120.03,193.88 L122.65,193.63 L125.27,193.34 L127.88,193.01 L130.49,192.63 L133.09,192.22 L135.68,191.76 L138.27,191.26 L140.85,190.72 L143.42,190.13 L145.97,189.51 L148.52,188.84 L151.06,188.14 L153.58,187.39 L156.10,186.60 L158.60,185.77 L161.08,184.90 L163.55,183.99 L166.01,183.05 L168.45,182.06 L170.88,181.03 L173.29,179.96 L175.68,178.86 L178.05,177.72 L180.40,176.54 L182.74,175.32 L185.05,174.06 L187.34,172.77 L189.62,171.43 L191.87,170.07 L194.10,168.66 L196.30,167.22 L198.48,165.75 L200.64,164.24 L202.78,162.70 L204.88,161.12 L206.97,159.51 L209.02,157.86 L211.05,156.18 L213.05,154.47 L215.03,152.73 L216.97,150.95 L218.89,149.15 L220.78,147.31 L222.64,145.44 L224.46,143.55 L226.26,141.62 L228.02,139.67 L229.76,137.68 L231.46,135.67 L233.13,133.64 L234.76,131.57 L236.36,129.48 L237.93,127.36 L239.47,125.22 L240.96,123.06 L242.43,120.87 L243.86,118.66 L245.25,116.42 L246.61,114.16 L247.92,111.88 L249.21,109.58 L250.45,107.26 L251.66,104.92 L252.83,102.56 L253.96,100.19 L255.05,97.79 L256.11,95.38 L257.12,92.95 L258.10,90.50" stroke-width="1.0"/>
<path d="M91.10,193.80 L94.15,194.08 L97.20,194.37 L100.25,194.67 L103.30,194.97 L106.34,195.29 L109.39,195.60 L112.44,195.93 L115.48,196.26 L118.53,196.60 L121.57,196.95 L124.61,197.30 L127.65,197.67 L130.69,198.03 L133.73,198.41 L136.77,198.79 L139.81,199.18 L142.85,199.58 L145.89,199.98 L148.92,200.40 L151.95,200.82 L154.99,201.24 L158.02,201.67 L161.05,202.11 L164.08,202.56 L167.11,203.02 L170.14,203.48 L173.17,203.95 L176.19,204.42 L179.22,204.90 L182.24,205.39 L185.26,205.89 L188.29,206.40 L191.31,206.91 L194.32,207.43 L197.34,207.95 L200.36,208.48 L203.37,209.02 L206.39,209.57 L209.40,210.12 L212.41,210.69 L215.42,211.25 L218.43,211.83 L221.44,212.41 L224.44,213.00 L227.45,213.60 L230.45,214.20 L233.45,214.81 L236.45,215.43 L239.45,216.05 L242.45,216.69 L245.45,217.32 L248.44,217.97 L251.43,218.62 L254.42,219.28 L257.41,219.95 L260.40,220.62 L263.39,221.30 L266.37,221.99 L269.36,222.69 L272.34,223.39 L275.32,224.10 L278.30,224.82 L281.27,225.54 L284.25,226.27 L287.22,227.01 L290.19,227.75 L293.16,228.50 L296.13,229.26 L299.10,230.02 L302.06,230.80 L305.02,231.58 L307.98,232.36 L310.94,233.15 L313.90,233.95 L316.85,234.76 L319.81,235.58 L322.76,236.40 L325.71,237.22 L328.65,238.06 L331.60,238.90" stroke-width="1.05"/>
<path d="M91.10,193.80 L94.08,194.08 L97.05,194.39 L100.03,194.71 L103.00,195.05 L105.97,195.42 L108.93,195.81 L111.90,196.21 L114.86,196.64 L117.82,197.09 L120.77,197.56 L123.72,198.04 L126.67,198.55 L129.61,199.08 L132.56,199.63 L135.49,200.20 L138.42,200.80 L141.35,201.41 L144.28,202.04 L147.20,202.69 L150.11,203.36 L153.02,204.06 L155.93,204.77 L158.83,205.50 L161.72,206.26 L164.61,207.03 L167.49,207.82 L170.37,208.64 L173.25,209.47 L176.11,210.33 L178.97,211.20 L181.83,212.09 L184.68,213.01 L187.52,213.94 L190.36,214.89 L193.18,215.86 L196.01,216.86 L198.82,217.87 L201.63,218.90 L204.43,219.95 L207.22,221.02 L210.01,222.11 L212.79,223.22 L215.56,224.35 L218.32,225.50 L221.08,226.66 L223.82,227.85 L226.56,229.05 L229.29,230.28 L232.01,231.52 L234.72,232.78 L237.43,234.07 L240.12,235.36 L242.80,236.68 L245.48,238.02 L248.15,239.38 L250.80,240.75 L253.45,242.14 L256.09,243.55 L258.72,244.98 L261.34,246.43 L263.94,247.90 L266.54,249.38 L269.13,250.88 L271.70,252.40 L274.27,253.94 L276.83,255.50 L279.37,257.07 L281.90,258.66 L284.43,260.27 L286.94,261.89 L289.44,263.54 L291.92,265.20 L294.40,266.88 L296.87,268.57 L299.32,270.28 L301.76,272.01 L304.19,273.76 L306.60,275.52 L309.01,277.30 L311.40,279.10" stroke-width="1.0"/>
<path d="M91.10,193.80 L91.89,193.89 L92.68,194.00 L93.47,194.14 L94.25,194.31 L95.02,194.50 L95.79,194.72 L96.55,194.97 L97.30,195.24 L98.04,195.54 L98.77,195.87 L99.49,196.22 L100.19,196.59 L100.88,196.99 L101.56,197.42 L102.22,197.86 L102.87,198.33 L103.50,198.82 L104.11,199.33 L104.70,199.86 L105.28,200.42 L105.84,200.99 L106.37,201.58 L106.89,202.19 L107.38,202.82 L107.85,203.46 L108.30,204.12 L108.73,204.80 L109.13,205.49 L109.51,206.19 L109.86,206.91 L110.19,207.63 L110.49,208.37 L110.77,209.12 L111.02,209.88 L111.24,210.65 L111.44,211.42 L111.61,212.20 L111.76,212.98 L111.87,213.77 L111.96,214.57 L112.03,215.36 L112.06,216.16 L112.07,216.96 L112.05,217.76 L112.00,218.55 L111.92,219.35 L111.82,220.14 L111.69,220.93 L111.53,221.71 L111.34,222.48 L111.13,223.25 L110.89,224.02 L110.63,224.77 L110.34,225.51 L110.02,226.24 L109.68,226.97 L109.32,227.68 L108.93,228.37 L108.51,229.05 L108.07,229.72 L107.61,230.37 L107.13,231.01 L106.63,231.63 L106.10,232.23 L105.55,232.81 L104.99,233.37 L104.40,233.92 L103.80,234.44 L103.18,234.94 L102.54,235.42 L101.88,235.88 L101.21,236.31 L100.53,236.72 L99.83,237.11 L99.12,237.47 L98.40,237.81 L97.66,238.12 L96.92,238.41 L96.16,238.67 L95.40,238.90" stroke-width="1.0"/>
<path d="M91.10,193.80 L93.42,194.04 L95.74,194.33 L98.05,194.67 L100.35,195.06 L102.65,195.49 L104.93,195.98 L107.21,196.51 L109.47,197.08 L111.72,197.71 L113.96,198.38 L116.18,199.09 L118.38,199.86 L120.58,200.67 L122.75,201.52 L124.90,202.42 L127.04,203.36 L129.16,204.35 L131.25,205.38 L133.32,206.45 L135.37,207.57 L137.40,208.73 L139.40,209.93 L141.38,211.18 L143.33,212.46 L145.25,213.79 L147.15,215.15 L149.02,216.55 L150.85,217.99 L152.66,219.47 L154.43,220.99 L156.18,222.54 L157.89,224.13 L159.57,225.76 L161.21,227.41 L162.82,229.11 L164.39,230.83 L165.93,232.59 L167.43,234.38 L168.89,236.20 L170.32,238.05 L171.70,239.93 L173.05,241.84 L174.35,243.77 L175.62,245.74 L176.85,247.72 L178.03,249.74 L179.17,251.77 L180.27,253.84 L181.32,255.92 L182.34,258.02 L183.30,260.15 L184.23,262.29 L185.11,264.46 L185.94,266.64 L186.73,268.83 L187.47,271.05 L188.17,273.28 L188.82,275.52 L189.42,277.78 L189.97,280.04 L190.48,282.32 L190.94,284.61 L191.36,286.91 L191.72,289.22 L192.04,291.53 L192.31,293.85 L192.53,296.17 L192.70,298.50 L192.83,300.83 L192.90,303.17 L192.93,305.50 L192.91,307.84 L192.84,310.17 L192.72,312.50 L192.56,314.83 L192.34,317.16 L192.08,319.48 L191.77,321.79 L191.41,324.10 L191.00,326.40" stroke-width="1.0"/>
<path d="M91.10,193.80 L93.03,194.00 L94.95,194.25 L96.86,194.55 L98.77,194.90 L100.66,195.30 L102.55,195.74 L104.42,196.23 L106.28,196.77 L108.13,197.36 L109.96,197.99 L111.77,198.67 L113.57,199.40 L115.35,200.17 L117.10,200.98 L118.84,201.84 L120.55,202.75 L122.24,203.69 L123.91,204.68 L125.55,205.72 L127.16,206.79 L128.75,207.90 L130.30,209.05 L131.83,210.25 L133.33,211.48 L134.79,212.75 L136.22,214.05 L137.62,215.39 L138.99,216.77 L140.31,218.18 L141.61,219.62 L142.86,221.10 L144.08,222.60 L145.26,224.14 L146.40,225.71 L147.49,227.30 L148.55,228.93 L149.57,230.57 L150.54,232.25 L151.48,233.95 L152.36,235.67 L153.21,237.41 L154.01,239.18 L154.76,240.96 L155.47,242.76 L156.13,244.58 L156.75,246.42 L157.32,248.27 L157.84,250.14 L158.32,252.01 L158.75,253.90 L159.13,255.80 L159.46,257.71 L159.74,259.63 L159.97,261.55 L160.16,263.48 L160.29,265.41 L160.38,267.35 L160.42,269.28 L160.41,271.22 L160.35,273.16 L160.24,275.09 L160.08,277.02 L159.87,278.95 L159.61,280.87 L159.31,282.78 L158.96,284.69 L158.55,286.58 L158.10,288.47 L157.61,290.34 L157.06,292.20 L156.47,294.04 L155.83,295.87 L155.15,297.68 L154.42,299.48 L153.64,301.25 L152.82,303.01 L151.95,304.74 L151.05,306.45 L150.09,308.14 L149.10,309.80" stroke-width="1.0"/>
<path d="M95.40,238.90 L96.78,238.53 L98.18,238.20 L99.58,237.91 L100.99,237.66 L102.41,237.46 L103.83,237.30 L105.25,237.18 L106.68,237.10 L108.12,237.07 L109.55,237.08 L110.98,237.13 L112.41,237.23 L113.83,237.37 L115.25,237.55 L116.67,237.77 L118.07,238.04 L119.47,238.35 L120.86,238.70 L122.24,239.09 L123.60,239.52 L124.95,240.00 L126.29,240.51 L127.61,241.06 L128.91,241.66 L130.20,242.29 L131.46,242.96 L132.71,243.67 L133.93,244.41 L135.13,245.20 L136.30,246.01 L137.45,246.86 L138.58,247.75 L139.68,248.67 L140.75,249.62 L141.79,250.61 L142.80,251.62 L143.78,252.66 L144.72,253.74 L145.64,254.84 L146.52,255.97 L147.37,257.12 L148.18,258.30 L148.96,259.50 L149.70,260.73 L150.40,261.98 L151.06,263.24 L151.69,264.53 L152.28,265.84 L152.83,267.16 L153.34,268.50 L153.80,269.85 L154.23,271.22 L154.62,272.60 L154.96,273.99 L155.26,275.39 L155.52,276.79 L155.74,278.21 L155.92,279.63 L156.05,281.06 L156.14,282.48 L156.19,283.92 L156.19,285.35 L156.15,286.78 L156.07,288.21 L155.95,289.63 L155.78,291.06 L155.57,292.47 L155.32,293.88 L155.02,295.28 L154.69,296.67 L154.31,298.06 L153.89,299.42 L153.43,300.78 L152.93,302.12 L152.39,303.45 L151.81,304.76 L151.19,306.05 L150.53,307.32 L149.83,308.57 L149.10,309.80" stroke-width="1.05"/>
<path d="M95.40,238.90 L97.27,238.40 L99.15,237.94 L101.05,237.53 L102.95,237.17 L104.86,236.86 L106.78,236.60 L108.71,236.39 L110.64,236.22 L112.57,236.11 L114.50,236.04 L116.44,236.03 L118.38,236.06 L120.31,236.14 L122.24,236.27 L124.17,236.45 L126.10,236.68 L128.01,236.96 L129.92,237.28 L131.82,237.66 L133.71,238.08 L135.59,238.55 L137.46,239.07 L139.31,239.64 L141.15,240.25 L142.97,240.91 L144.77,241.61 L146.56,242.36 L148.32,243.16 L150.07,244.00 L151.79,244.88 L153.49,245.81 L155.17,246.78 L156.82,247.80 L158.44,248.85 L160.04,249.95 L161.61,251.08 L163.15,252.26 L164.66,253.47 L166.13,254.72 L167.58,256.01 L168.99,257.34 L170.37,258.70 L171.71,260.10 L173.02,261.53 L174.29,262.99 L175.52,264.48 L176.72,266.01 L177.87,267.56 L178.99,269.15 L180.06,270.76 L181.09,272.39 L182.09,274.06 L183.03,275.75 L183.94,277.46 L184.80,279.19 L185.62,280.95 L186.39,282.73 L187.12,284.52 L187.80,286.33 L188.43,288.16 L189.02,290.01 L189.56,291.87 L190.06,293.74 L190.50,295.63 L190.90,297.52 L191.25,299.43 L191.55,301.34 L191.80,303.26 L192.01,305.19 L192.16,307.12 L192.26,309.05 L192.32,310.99 L192.33,312.92 L192.28,314.86 L192.19,316.80 L192.05,318.73 L191.86,320.66 L191.62,322.58 L191.34,324.49 L191.00,326.40" stroke-width="1.05"/>
<path d="M95.40,238.90 L98.34,238.06 L101.29,237.22 L104.24,236.40 L107.19,235.58 L110.14,234.76 L113.10,233.96 L116.06,233.16 L119.01,232.36 L121.97,231.58 L124.94,230.80 L127.90,230.03 L130.87,229.26 L133.83,228.51 L136.80,227.76 L139.78,227.01 L142.75,226.28 L145.72,225.55 L148.70,224.83 L151.68,224.11 L154.66,223.40 L157.64,222.70 L160.62,222.01 L163.61,221.32 L166.59,220.64 L169.58,219.97 L172.57,219.31 L175.56,218.65 L178.56,218.00 L181.55,217.35 L184.55,216.71 L187.54,216.08 L190.54,215.46 L193.54,214.85 L196.54,214.24 L199.55,213.64 L202.55,213.04 L205.56,212.46 L208.56,211.88 L211.57,211.30 L214.58,210.74 L217.59,210.18 L220.61,209.63 L223.62,209.08 L226.64,208.55 L229.65,208.02 L232.67,207.49 L235.69,206.98 L238.71,206.47 L241.73,205.97 L244.75,205.47 L247.78,204.99 L250.80,204.51 L253.83,204.03 L256.86,203.57 L259.89,203.11 L262.91,202.66 L265.95,202.22 L268.98,201.78 L272.01,201.35 L275.04,200.93 L278.08,200.51 L281.11,200.11 L284.15,199.70 L287.19,199.31 L290.23,198.93 L293.26,198.55 L296.30,198.17 L299.35,197.81 L302.39,197.45 L305.43,197.10 L308.47,196.76 L311.52,196.42 L314.56,196.10 L317.61,195.77 L320.66,195.46 L323.70,195.15 L326.75,194.85 L329.80,194.56 L332.85,194.28 L335.90,194.00" stroke-width="1.0"/>
<path d="M95.40,238.90 L98.27,238.06 L101.14,237.21 L104.00,236.33 L106.86,235.44 L109.71,234.53 L112.55,233.59 L115.39,232.64 L118.22,231.66 L121.04,230.67 L123.86,229.66 L126.67,228.63 L129.47,227.58 L132.27,226.51 L135.05,225.42 L137.83,224.31 L140.61,223.18 L143.37,222.04 L146.13,220.87 L148.88,219.69 L151.62,218.48 L154.35,217.26 L157.07,216.02 L159.79,214.76 L162.49,213.48 L165.19,212.18 L167.88,210.87 L170.56,209.53 L173.22,208.18 L175.88,206.81 L178.54,205.42 L181.18,204.01 L183.81,202.59 L186.43,201.14 L189.04,199.68 L191.64,198.20 L194.23,196.70 L196.81,195.19 L199.38,193.65 L201.94,192.10 L204.49,190.53 L207.03,188.95 L209.56,187.34 L212.07,185.72 L214.58,184.09 L217.07,182.43 L219.55,180.76 L222.02,179.07 L224.48,177.36 L226.93,175.64 L229.36,173.90 L231.78,172.14 L234.20,170.37 L236.59,168.58 L238.98,166.77 L241.35,164.95 L243.71,163.11 L246.06,161.25 L248.40,159.38 L250.72,157.49 L253.03,155.59 L255.32,153.67 L257.61,151.73 L259.88,149.78 L262.13,147.81 L264.37,145.83 L266.60,143.83 L268.82,141.82 L271.02,139.79 L273.20,137.75 L275.38,135.69 L277.53,133.62 L279.68,131.53 L281.81,129.42 L283.92,127.31 L286.02,125.17 L288.11,123.03 L290.18,120.87 L292.23,118.69 L294.27,116.50 L296.30,114.30" stroke-width="1.05"/>
<path d="M115.60,279.20 L117.88,277.49 L120.18,275.81 L122.50,274.16 L124.83,272.53 L127.19,270.93 L129.57,269.36 L131.96,267.82 L134.37,266.30 L136.80,264.81 L139.24,263.35 L141.70,261.92 L144.18,260.52 L146.68,259.15 L149.19,257.80 L151.71,256.49 L154.25,255.20 L156.81,253.94 L159.38,252.72 L161.96,251.52 L164.56,250.35 L167.17,249.21 L169.79,248.11 L172.43,247.03 L175.08,245.99 L177.74,244.97 L180.41,243.99 L183.10,243.04 L185.79,242.11 L188.50,241.22 L191.21,240.37 L193.94,239.54 L196.67,238.74 L199.41,237.98 L202.17,237.25 L204.93,236.55 L207.69,235.88 L210.47,235.25 L213.25,234.64 L216.04,234.07 L218.84,233.53 L221.64,233.03 L224.45,232.55 L227.26,232.11 L230.08,231.70 L232.90,231.33 L235.73,230.99 L238.56,230.68 L241.40,230.40 L244.23,230.15 L247.07,229.94 L249.91,229.76 L252.76,229.62 L255.60,229.51 L258.45,229.43 L261.30,229.38 L264.15,229.37 L266.99,229.39 L269.84,229.44 L272.69,229.53 L275.53,229.65 L278.38,229.80 L281.22,229.98 L284.06,230.20 L286.89,230.45 L289.73,230.73 L292.56,231.05 L295.38,231.40 L298.21,231.78 L301.02,232.20 L303.83,232.65 L306.64,233.13 L309.44,233.64 L312.24,234.18 L315.03,234.76 L317.81,235.37 L320.58,236.01 L323.35,236.69 L326.11,237.39 L328.86,238.13 L331.60,238.90" stroke-width="1.0"/>
<path d="M115.60,279.20 L117.71,277.63 L119.84,276.09 L121.99,274.59 L124.18,273.13 L126.38,271.69 L128.61,270.30 L130.86,268.94 L133.13,267.62 L135.42,266.33 L137.73,265.09 L140.06,263.88 L142.42,262.70 L144.79,261.57 L147.17,260.47 L149.58,259.42 L152.00,258.40 L154.44,257.42 L156.90,256.48 L159.37,255.59 L161.85,254.73 L164.35,253.91 L166.86,253.13 L169.38,252.40 L171.91,251.70 L174.46,251.05 L177.01,250.43 L179.58,249.86 L182.15,249.33 L184.73,248.84 L187.32,248.40 L189.92,247.99 L192.52,247.63 L195.13,247.31 L197.74,247.03 L200.36,246.80 L202.98,246.61 L205.60,246.46 L208.23,246.35 L210.86,246.28 L213.48,246.26 L216.11,246.28 L218.74,246.34 L221.36,246.45 L223.99,246.59 L226.61,246.78 L229.22,247.02 L231.84,247.29 L234.45,247.61 L237.05,247.97 L239.65,248.37 L242.24,248.81 L244.82,249.30 L247.39,249.83 L249.96,250.40 L252.51,251.01 L255.06,251.66 L257.59,252.35 L260.12,253.09 L262.63,253.86 L265.13,254.68 L267.61,255.53 L270.08,256.43 L272.54,257.36 L274.98,258.34 L277.40,259.35 L279.81,260.41 L282.20,261.50 L284.57,262.63 L286.92,263.80 L289.25,265.01 L291.57,266.25 L293.86,267.54 L296.13,268.86 L298.38,270.21 L300.61,271.61 L302.82,273.03 L305.00,274.50 L307.16,276.00 L309.29,277.53 L311.40,279.10" stroke-width="1.0"/>
<path d="M115.60,279.20 L116.25,278.73 L116.91,278.28 L117.59,277.86 L118.28,277.46 L118.99,277.09 L119.70,276.73 L120.43,276.41 L121.17,276.11 L121.92,275.83 L122.68,275.59 L123.45,275.36 L124.23,275.17 L125.01,275.00 L125.80,274.86 L126.59,274.74 L127.38,274.66 L128.18,274.60 L128.98,274.57 L129.78,274.56 L130.58,274.59 L131.37,274.64 L132.17,274.72 L132.96,274.83 L133.75,274.96 L134.53,275.12 L135.31,275.31 L136.08,275.53 L136.84,275.77 L137.59,276.04 L138.34,276.33 L139.07,276.65 L139.79,276.99 L140.50,277.36 L141.19,277.76 L141.88,278.18 L142.54,278.62 L143.19,279.08 L143.83,279.57 L144.44,280.07 L145.04,280.60 L145.63,281.15 L146.19,281.72 L146.73,282.31 L147.25,282.92 L147.75,283.54 L148.23,284.18 L148.68,284.84 L149.11,285.51 L149.52,286.20 L149.90,286.90 L150.26,287.61 L150.60,288.34 L150.91,289.07 L151.19,289.82 L151.45,290.58 L151.68,291.34 L151.89,292.12 L152.07,292.90 L152.22,293.68 L152.34,294.47 L152.44,295.26 L152.50,296.06 L152.55,296.86 L152.56,297.66 L152.55,298.46 L152.50,299.25 L152.43,300.05 L152.34,300.84 L152.21,301.63 L152.06,302.42 L151.88,303.20 L151.68,303.97 L151.44,304.73 L151.19,305.49 L150.90,306.24 L150.59,306.97 L150.25,307.70 L149.89,308.41 L149.51,309.11 L149.10,309.80" stroke-width="1.0"/>
<path d="M149.10,309.80 L150.49,307.57 L151.92,305.37 L153.39,303.18 L154.89,301.03 L156.42,298.89 L157.99,296.78 L159.60,294.70 L161.23,292.64 L162.90,290.62 L164.61,288.61 L166.34,286.64 L168.11,284.69 L169.91,282.78 L171.74,280.89 L173.60,279.03 L175.49,277.21 L177.41,275.41 L179.35,273.65 L181.33,271.91 L183.33,270.21 L185.37,268.55 L187.42,266.91 L189.51,265.31 L191.62,263.74 L193.76,262.21 L195.92,260.71 L198.10,259.25 L200.31,257.83 L202.54,256.44 L204.79,255.08 L207.07,253.77 L209.36,252.49 L211.68,251.24 L214.01,250.04 L216.37,248.87 L218.74,247.74 L221.13,246.65 L223.54,245.60 L225.97,244.59 L228.41,243.62 L230.87,242.69 L233.34,241.80 L235.83,240.95 L238.33,240.13 L240.84,239.36 L243.37,238.63 L245.90,237.95 L248.45,237.30 L251.01,236.69 L253.58,236.13 L256.15,235.61 L258.74,235.13 L261.33,234.69 L263.93,234.29 L266.53,233.94 L269.14,233.63 L271.75,233.36 L274.37,233.13 L276.99,232.95 L279.62,232.81 L282.25,232.71 L284.87,232.65 L287.50,232.64 L290.13,232.67 L292.76,232.74 L295.38,232.85 L298.01,233.01 L300.63,233.21 L303.24,233.45 L305.86,233.74 L308.47,234.07 L311.07,234.43 L313.66,234.85 L316.25,235.30 L318.83,235.80 L321.41,236.33 L323.97,236.91 L326.52,237.53 L329.07,238.20 L331.60,238.90" stroke-width="1.0"/>
<path d="M149.10,309.80 L149.54,309.14 L149.99,308.49 L150.47,307.85 L150.97,307.23 L151.50,306.64 L152.04,306.06 L152.60,305.49 L153.18,304.95 L153.78,304.43 L154.40,303.93 L155.03,303.45 L155.69,303.00 L156.35,302.56 L157.03,302.16 L157.73,301.77 L158.44,301.41 L159.16,301.07 L159.89,300.76 L160.63,300.47 L161.38,300.21 L162.14,299.98 L162.90,299.77 L163.68,299.59 L164.46,299.44 L165.24,299.31 L166.03,299.21 L166.82,299.14 L167.62,299.09 L168.41,299.08 L169.20,299.09 L170.00,299.13 L170.79,299.19 L171.58,299.28 L172.37,299.40 L173.15,299.55 L173.92,299.73 L174.69,299.93 L175.45,300.15 L176.20,300.41 L176.95,300.69 L177.68,300.99 L178.40,301.32 L179.12,301.68 L179.81,302.06 L180.50,302.46 L181.17,302.89 L181.82,303.34 L182.46,303.81 L183.08,304.31 L183.69,304.82 L184.27,305.36 L184.84,305.92 L185.39,306.49 L185.92,307.09 L186.42,307.70 L186.91,308.33 L187.37,308.98 L187.81,309.64 L188.23,310.31 L188.62,311.01 L188.99,311.71 L189.33,312.43 L189.65,313.15 L189.95,313.89 L190.21,314.64 L190.46,315.40 L190.67,316.16 L190.86,316.93 L191.02,317.71 L191.16,318.49 L191.26,319.28 L191.34,320.07 L191.40,320.86 L191.42,321.66 L191.42,322.45 L191.39,323.25 L191.33,324.04 L191.25,324.83 L191.14,325.62 L191.00,326.40" stroke-width="1.0"/>
<path d="M149.10,309.80 L150.70,307.19 L152.30,304.57 L153.89,301.95 L155.47,299.33 L157.05,296.70 L158.62,294.07 L160.19,291.43 L161.75,288.79 L163.31,286.15 L164.86,283.51 L166.40,280.86 L167.94,278.21 L169.47,275.55 L170.99,272.89 L172.51,270.23 L174.02,267.56 L175.53,264.89 L177.03,262.22 L178.53,259.55 L180.02,256.87 L181.50,254.18 L182.98,251.50 L184.45,248.81 L185.91,246.12 L187.37,243.42 L188.82,240.72 L190.27,238.02 L191.71,235.31 L193.15,232.60 L194.58,229.89 L196.00,227.18 L197.41,224.46 L198.83,221.74 L200.23,219.01 L201.63,216.28 L203.02,213.55 L204.41,210.82 L205.78,208.08 L207.16,205.34 L208.53,202.60 L209.89,199.85 L211.24,197.10 L212.59,194.35 L213.93,191.59 L215.27,188.84 L216.60,186.07 L217.92,183.31 L219.24,180.54 L220.55,177.77 L221.86,175.00 L223.16,172.22 L224.45,169.44 L225.74,166.66 L227.02,163.88 L228.29,161.09 L229.56,158.30 L230.82,155.50 L232.08,152.71 L233.33,149.91 L234.57,147.11 L235.81,144.30 L237.04,141.49 L238.26,138.68 L239.48,135.87 L240.69,133.05 L241.90,130.24 L243.10,127.41 L244.29,124.59 L245.47,121.76 L246.65,118.93 L247.83,116.10 L248.99,113.27 L250.15,110.43 L251.31,107.59 L252.46,104.75 L253.60,101.90 L254.73,99.06 L255.86,96.21 L256.98,93.35 L258.10,90.50" stroke-width="1.0"/>
<path d="M258.10,90.50 L257.42,92.31 L256.79,94.14 L256.20,95.98 L255.66,97.84 L255.17,99.71 L254.73,101.59 L254.33,103.49 L253.98,105.39 L253.68,107.30 L253.43,109.22 L253.23,111.14 L253.08,113.07 L252.97,115.00 L252.92,116.94 L252.91,118.87 L252.96,120.81 L253.05,122.74 L253.19,124.67 L253.38,126.59 L253.62,128.51 L253.91,130.43 L254.24,132.33 L254.63,134.23 L255.06,136.11 L255.54,137.99 L256.07,139.85 L256.64,141.69 L257.26,143.53 L257.93,145.34 L258.65,147.14 L259.40,148.92 L260.21,150.68 L261.06,152.42 L261.95,154.13 L262.89,155.83 L263.86,157.49 L264.88,159.14 L265.95,160.75 L267.05,162.34 L268.19,163.91 L269.37,165.44 L270.59,166.94 L271.85,168.41 L273.15,169.84 L274.48,171.25 L275.84,172.62 L277.24,173.95 L278.68,175.25 L280.15,176.51 L281.64,177.73 L283.17,178.92 L284.73,180.07 L286.32,181.17 L287.93,182.24 L289.57,183.26 L291.24,184.24 L292.93,185.18 L294.65,186.08 L296.38,186.93 L298.14,187.74 L299.92,188.50 L301.71,189.22 L303.53,189.89 L305.36,190.52 L307.20,191.10 L309.06,191.63 L310.94,192.11 L312.82,192.55 L314.72,192.94 L316.62,193.28 L318.53,193.57 L320.45,193.82 L322.38,194.01 L324.31,194.16 L326.24,194.25 L328.17,194.30 L330.11,194.30 L332.04,194.25 L333.97,194.15 L335.90,194.00" stroke-width="1.0"/>
<path d="M258.10,90.50 L257.16,92.96 L256.27,95.43 L255.41,97.92 L254.60,100.42 L253.82,102.93 L253.09,105.45 L252.40,107.99 L251.75,110.54 L251.14,113.10 L250.57,115.66 L250.04,118.24 L249.55,120.82 L249.11,123.42 L248.71,126.02 L248.35,128.62 L248.03,131.23 L247.76,133.85 L247.53,136.46 L247.33,139.09 L247.19,141.71 L247.08,144.34 L247.02,146.97 L247.00,149.60 L247.02,152.23 L247.09,154.86 L247.19,157.48 L247.34,160.11 L247.54,162.73 L247.77,165.35 L248.05,167.97 L248.37,170.58 L248.73,173.18 L249.13,175.78 L249.58,178.37 L250.06,180.95 L250.59,183.53 L251.16,186.10 L251.78,188.65 L252.43,191.20 L253.12,193.74 L253.86,196.26 L254.64,198.77 L255.45,201.27 L256.31,203.76 L257.21,206.23 L258.14,208.69 L259.12,211.13 L260.14,213.56 L261.19,215.96 L262.29,218.35 L263.42,220.73 L264.59,223.08 L265.80,225.42 L267.05,227.73 L268.33,230.03 L269.65,232.30 L271.01,234.55 L272.40,236.78 L273.83,238.99 L275.30,241.17 L276.80,243.33 L278.33,245.47 L279.90,247.58 L281.50,249.66 L283.14,251.72 L284.81,253.75 L286.51,255.76 L288.25,257.73 L290.01,259.68 L291.81,261.60 L293.64,263.49 L295.50,265.35 L297.39,267.18 L299.30,268.98 L301.25,270.75 L303.23,272.48 L305.23,274.19 L307.26,275.86 L309.32,277.50 L311.40,279.10" stroke-width="1.8"/>
<path d="M258.10,90.50 L257.28,92.68 L256.50,94.87 L255.77,97.09 L255.08,99.31 L254.44,101.55 L253.85,103.80 L253.31,106.07 L252.81,108.34 L252.36,110.63 L251.95,112.92 L251.60,115.23 L251.29,117.53 L251.03,119.85 L250.82,122.17 L250.66,124.49 L250.54,126.82 L250.47,129.15 L250.46,131.48 L250.49,133.80 L250.56,136.13 L250.69,138.46 L250.87,140.78 L251.09,143.10 L251.36,145.41 L251.68,147.72 L252.05,150.02 L252.47,152.31 L252.93,154.59 L253.44,156.87 L254.00,159.13 L254.60,161.38 L255.25,163.61 L255.95,165.84 L256.69,168.04 L257.48,170.24 L258.31,172.41 L259.19,174.57 L260.12,176.71 L261.09,178.82 L262.10,180.92 L263.15,183.00 L264.25,185.05 L265.39,187.08 L266.58,189.09 L267.80,191.07 L269.06,193.03 L270.37,194.96 L271.72,196.86 L273.10,198.73 L274.52,200.57 L275.98,202.39 L277.48,204.17 L279.02,205.92 L280.59,207.64 L282.20,209.33 L283.84,210.98 L285.51,212.60 L287.22,214.18 L288.96,215.73 L290.74,217.24 L292.54,218.71 L294.37,220.15 L296.24,221.55 L298.13,222.90 L300.05,224.22 L302.00,225.50 L303.97,226.74 L305.97,227.93 L307.99,229.09 L310.04,230.20 L312.11,231.27 L314.20,232.30 L316.31,233.28 L318.44,234.22 L320.59,235.11 L322.76,235.96 L324.95,236.76 L327.15,237.52 L329.37,238.23 L331.60,238.90" stroke-width="1.0"/>
<path d="M296.30,114.30 L295.01,115.75 L293.77,117.22 L292.56,118.73 L291.38,120.27 L290.25,121.84 L289.16,123.44 L288.11,125.06 L287.10,126.71 L286.13,128.39 L285.21,130.09 L284.33,131.81 L283.49,133.55 L282.70,135.32 L281.95,137.10 L281.25,138.90 L280.59,140.72 L279.98,142.56 L279.42,144.41 L278.90,146.28 L278.43,148.15 L278.01,150.04 L277.64,151.94 L277.32,153.85 L277.04,155.76 L276.81,157.68 L276.64,159.61 L276.51,161.54 L276.43,163.47 L276.40,165.41 L276.42,167.34 L276.48,169.27 L276.60,171.21 L276.77,173.13 L276.98,175.06 L277.24,176.97 L277.55,178.88 L277.91,180.78 L278.32,182.67 L278.78,184.55 L279.28,186.42 L279.83,188.28 L280.43,190.12 L281.08,191.94 L281.77,193.75 L282.50,195.54 L283.28,197.31 L284.11,199.06 L284.98,200.78 L285.89,202.49 L286.85,204.17 L287.85,205.83 L288.89,207.46 L289.97,209.06 L291.09,210.64 L292.26,212.18 L293.46,213.70 L294.70,215.19 L295.97,216.64 L297.28,218.06 L298.63,219.45 L300.02,220.80 L301.43,222.12 L302.88,223.40 L304.36,224.64 L305.88,225.85 L307.42,227.01 L308.99,228.14 L310.59,229.23 L312.22,230.27 L313.87,231.28 L315.55,232.24 L317.26,233.16 L318.98,234.03 L320.73,234.87 L322.50,235.65 L324.28,236.39 L326.09,237.09 L327.91,237.74 L329.75,238.34 L331.60,238.90" stroke-width="1.0"/>
<path d="M323.40,150.60 L322.13,151.26 L320.88,151.95 L319.66,152.68 L318.45,153.45 L317.27,154.25 L316.12,155.09 L314.99,155.96 L313.88,156.87 L312.81,157.81 L311.76,158.78 L310.74,159.78 L309.75,160.81 L308.80,161.87 L307.88,162.96 L306.98,164.08 L306.13,165.22 L305.31,166.39 L304.52,167.58 L303.77,168.79 L303.06,170.03 L302.38,171.29 L301.74,172.57 L301.14,173.86 L300.58,175.18 L300.06,176.51 L299.58,177.85 L299.15,179.21 L298.75,180.58 L298.39,181.96 L298.07,183.36 L297.80,184.76 L297.57,186.17 L297.38,187.58 L297.23,189.00 L297.13,190.43 L297.07,191.85 L297.05,193.28 L297.08,194.71 L297.15,196.13 L297.26,197.56 L297.41,198.98 L297.61,200.39 L297.84,201.80 L298.12,203.20 L298.45,204.59 L298.81,205.97 L299.22,207.34 L299.66,208.70 L300.15,210.04 L300.68,211.37 L301.24,212.68 L301.85,213.97 L302.49,215.25 L303.17,216.50 L303.89,217.73 L304.65,218.94 L305.44,220.13 L306.27,221.30 L307.13,222.43 L308.03,223.55 L308.96,224.63 L309.92,225.69 L310.91,226.71 L311.93,227.71 L312.98,228.68 L314.06,229.61 L315.17,230.51 L316.31,231.38 L317.47,232.21 L318.65,233.01 L319.86,233.77 L321.09,234.49 L322.34,235.18 L323.61,235.83 L324.90,236.44 L326.21,237.01 L327.54,237.54 L328.88,238.04 L330.23,238.49 L331.60,238.90" stroke-width="1.05"/>
<path d="M323.40,150.60 L321.68,151.48 L319.99,152.40 L318.32,153.37 L316.67,154.38 L315.06,155.42 L313.46,156.51 L311.90,157.64 L310.37,158.81 L308.86,160.02 L307.39,161.27 L305.95,162.55 L304.54,163.87 L303.17,165.22 L301.83,166.61 L300.53,168.04 L299.26,169.49 L298.03,170.98 L296.84,172.50 L295.69,174.04 L294.58,175.62 L293.51,177.22 L292.48,178.85 L291.49,180.51 L290.54,182.19 L289.64,183.90 L288.78,185.62 L287.96,187.37 L287.19,189.14 L286.47,190.93 L285.79,192.73 L285.16,194.55 L284.57,196.39 L284.03,198.24 L283.54,200.11 L283.09,201.99 L282.69,203.87 L282.34,205.77 L282.04,207.68 L281.79,209.59 L281.59,211.51 L281.43,213.43 L281.33,215.35 L281.27,217.28 L281.26,219.21 L281.30,221.14 L281.39,223.07 L281.53,224.99 L281.72,226.91 L281.96,228.82 L282.24,230.73 L282.57,232.63 L282.96,234.52 L283.39,236.40 L283.86,238.27 L284.39,240.13 L284.96,241.97 L285.58,243.80 L286.24,245.61 L286.95,247.40 L287.71,249.18 L288.51,250.93 L289.36,252.67 L290.24,254.38 L291.18,256.07 L292.15,257.73 L293.17,259.37 L294.23,260.98 L295.33,262.57 L296.46,264.12 L297.64,265.65 L298.86,267.15 L300.11,268.61 L301.40,270.05 L302.73,271.45 L304.09,272.81 L305.49,274.14 L306.92,275.44 L308.38,276.70 L309.88,277.92 L311.40,279.10" stroke-width="1.05"/>
<path d="M335.90,194.00 L334.48,194.15 L333.07,194.34 L331.66,194.57 L330.26,194.84 L328.87,195.16 L327.49,195.52 L326.12,195.92 L324.76,196.36 L323.42,196.84 L322.09,197.36 L320.78,197.92 L319.49,198.52 L318.21,199.16 L316.95,199.84 L315.72,200.55 L314.51,201.30 L313.32,202.09 L312.15,202.91 L311.01,203.77 L309.90,204.66 L308.81,205.58 L307.75,206.54 L306.72,207.52 L305.72,208.54 L304.75,209.59 L303.82,210.67 L302.91,211.77 L302.04,212.90 L301.21,214.06 L300.41,215.24 L299.64,216.44 L298.92,217.67 L298.22,218.92 L297.57,220.18 L296.96,221.47 L296.38,222.78 L295.84,224.10 L295.35,225.43 L294.89,226.79 L294.48,228.15 L294.10,229.53 L293.77,230.91 L293.48,232.31 L293.23,233.72 L293.02,235.13 L292.86,236.54 L292.74,237.97 L292.66,239.39 L292.63,240.82 L292.63,242.24 L292.68,243.67 L292.78,245.09 L292.91,246.51 L293.09,247.93 L293.31,249.34 L293.57,250.74 L293.88,252.13 L294.23,253.51 L294.61,254.89 L295.04,256.25 L295.51,257.59 L296.02,258.93 L296.57,260.24 L297.16,261.54 L297.79,262.82 L298.46,264.08 L299.16,265.32 L299.90,266.54 L300.68,267.74 L301.49,268.91 L302.34,270.06 L303.22,271.18 L304.14,272.28 L305.08,273.34 L306.06,274.38 L307.07,275.39 L308.11,276.36 L309.18,277.31 L310.28,278.22 L311.40,279.10" stroke-width="1.0"/>
<path d="M331.60,238.90 L330.83,238.69 L330.06,238.51 L329.28,238.36 L328.50,238.23 L327.71,238.13 L326.92,238.06 L326.13,238.02 L325.34,238.00 L324.55,238.01 L323.75,238.05 L322.96,238.11 L322.18,238.21 L321.39,238.33 L320.61,238.47 L319.84,238.65 L319.07,238.85 L318.31,239.08 L317.56,239.33 L316.82,239.61 L316.08,239.91 L315.36,240.24 L314.65,240.60 L313.96,240.98 L313.27,241.38 L312.61,241.81 L311.95,242.26 L311.31,242.73 L310.69,243.22 L310.09,243.74 L309.51,244.27 L308.94,244.83 L308.39,245.40 L307.87,246.00 L307.36,246.61 L306.88,247.24 L306.42,247.88 L305.98,248.54 L305.56,249.22 L305.17,249.91 L304.80,250.61 L304.45,251.32 L304.14,252.05 L303.84,252.79 L303.58,253.53 L303.33,254.29 L303.12,255.05 L302.93,255.82 L302.77,256.60 L302.63,257.38 L302.52,258.17 L302.44,258.95 L302.39,259.75 L302.37,260.54 L302.37,261.33 L302.40,262.12 L302.45,262.92 L302.54,263.70 L302.65,264.49 L302.79,265.27 L302.95,266.05 L303.15,266.82 L303.36,267.58 L303.61,268.33 L303.88,269.08 L304.18,269.81 L304.50,270.54 L304.85,271.25 L305.22,271.95 L305.61,272.64 L306.03,273.31 L306.48,273.97 L306.94,274.61 L307.43,275.24 L307.94,275.85 L308.47,276.44 L309.01,277.01 L309.58,277.56 L310.17,278.10 L310.78,278.61 L311.40,279.10" stroke-width="1.0"/>
<path d="M331.60,238.90 L330.22,238.53 L328.83,238.20 L327.43,237.92 L326.02,237.67 L324.60,237.47 L323.18,237.31 L321.76,237.20 L320.33,237.12 L318.90,237.09 L317.47,237.11 L316.04,237.16 L314.62,237.26 L313.19,237.40 L311.78,237.59 L310.37,237.81 L308.96,238.08 L307.57,238.39 L306.18,238.75 L304.81,239.14 L303.44,239.58 L302.10,240.05 L300.76,240.57 L299.45,241.12 L298.15,241.72 L296.87,242.35 L295.60,243.03 L294.36,243.74 L293.15,244.48 L291.95,245.27 L290.78,246.08 L289.63,246.94 L288.51,247.83 L287.42,248.75 L286.35,249.70 L285.32,250.68 L284.31,251.70 L283.33,252.75 L282.39,253.82 L281.48,254.92 L280.60,256.05 L279.76,257.20 L278.95,258.38 L278.18,259.59 L277.45,260.81 L276.75,262.06 L276.09,263.33 L275.46,264.62 L274.88,265.92 L274.34,267.24 L273.83,268.58 L273.37,269.93 L272.95,271.30 L272.57,272.68 L272.23,274.06 L271.93,275.46 L271.67,276.87 L271.46,278.28 L271.29,279.70 L271.16,281.13 L271.08,282.55 L271.03,283.98 L271.03,285.41 L271.08,286.84 L271.16,288.27 L271.29,289.69 L271.46,291.11 L271.68,292.52 L271.94,293.93 L272.24,295.33 L272.58,296.72 L272.96,298.09 L273.38,299.46 L273.85,300.81 L274.35,302.15 L274.90,303.47 L275.48,304.77 L276.10,306.06 L276.76,307.33 L277.46,308.57 L278.20,309.80" stroke-width="1.05"/>
</g>
<g fill="#fff" stroke="#9a9a9a" stroke-width="0.7">
<circle cx="169.3" cy="90.5" r="1.5"/>
<circle cx="131.2" cy="114.4" r="1.5"/>
<circle cx="103.4" cy="150.6" r="1.5"/>
<circle cx="91.1" cy="193.8" r="1.5"/>
<circle cx="95.4" cy="238.9" r="1.5"/>
<circle cx="115.6" cy="279.2" r="1.5"/>
<circle cx="149.1" cy="309.8" r="1.5"/>
<circle cx="191.0" cy="326.4" r="1.5"/>
<circle cx="278.2" cy="309.8" r="1.5"/>
<circle cx="311.4" cy="279.1" r="1.5"/>
<circle cx="331.6" cy="238.9" r="1.5"/>
<circle cx="335.9" cy="194.0" r="1.5"/>
<circle cx="323.4" cy="150.6" r="1.5"/>
<circle cx="296.3" cy="114.3" r="1.5"/>
<circle cx="258.1" cy="90.5" r="1.5"/>
</g>
<text x="141.7" y="43.4" font-size="12" font-weight="bold" fill="#333" text-anchor="start" textLength="12.9" lengthAdjust="spacingAndGlyphs" >16</text>
<text x="79" y="75" font-size="12" font-weight="bold" fill="#333" text-anchor="start" textLength="12.9" lengthAdjust="spacingAndGlyphs" >17</text>
<text x="30.1" y="118.9" font-size="12" font-weight="bold" fill="#333" text-anchor="start" textLength="12.9" lengthAdjust="spacingAndGlyphs" >18</text>
<text x="16.6" y="180.2" font-size="12" font-weight="bold" fill="#333" text-anchor="start" textLength="12.9" lengthAdjust="spacingAndGlyphs" >19</text>
<text x="20.7" y="250.8" font-size="12" font-weight="bold" fill="#333" text-anchor="start" textLength="12.9" lengthAdjust="spacingAndGlyphs" >20</text>
<text x="50.8" y="312.1" font-size="12" font-weight="bold" fill="#333" text-anchor="start" textLength="12.9" lengthAdjust="spacingAndGlyphs" >21</text>
<text x="96.3" y="357.4" font-size="12" font-weight="bold" fill="#333" text-anchor="start" textLength="12.9" lengthAdjust="spacingAndGlyphs" >22</text>
<text x="155.2" y="382" font-size="12" font-weight="bold" fill="#333" text-anchor="start" textLength="12.9" lengthAdjust="spacingAndGlyphs" >23</text>
<text x="285" y="43.5" font-size="12" font-weight="bold" fill="#333" text-anchor="start" textLength="12.9" lengthAdjust="spacingAndGlyphs" >67</text>
<text x="334" y="81.3" font-size="12" font-weight="bold" fill="#333" text-anchor="start" textLength="12.9" lengthAdjust="spacingAndGlyphs" >68</text>
<text x="373.6" y="120.1" font-size="12" font-weight="bold" fill="#333" text-anchor="start" textLength="12.9" lengthAdjust="spacingAndGlyphs" >69</text>
<text x="393.7" y="179.2" font-size="12" font-weight="bold" fill="#333" text-anchor="start" textLength="12.9" lengthAdjust="spacingAndGlyphs" >70</text>
<text x="393.7" y="243.4" font-size="12" font-weight="bold" fill="#333" text-anchor="start" textLength="12.9" lengthAdjust="spacingAndGlyphs" >71</text>
<text x="357.8" y="311.2" font-size="12" font-weight="bold" fill="#333" text-anchor="start" textLength="12.9" lengthAdjust="spacingAndGlyphs" >72</text>
<text x="304.2" y="367.8" font-size="12" font-weight="bold" fill="#333" text-anchor="start" textLength="12.9" lengthAdjust="spacingAndGlyphs" >73</text>
<text x="20.5" y="394.9" font-size="12.5" font-weight="bold" fill="#848484" text-anchor="start" textLength="95.8" lengthAdjust="spacingAndGlyphs" >Left hemisphere</text>
<text x="305.1" y="394.9" font-size="12.5" font-weight="bold" fill="#848484" text-anchor="start" textLength="104.7" lengthAdjust="spacingAndGlyphs" >Right hemisphere</text>
<text x="463.3" y="13.1" font-size="13.8" font-weight="normal" fill="#000" text-anchor="start" textLength="11.4" lengthAdjust="spacingAndGlyphs" >C</text>
<text x="499.4" y="21.7" font-size="11" font-weight="bold" fill="#000" text-anchor="start" textLength="184" lengthAdjust="spacingAndGlyphs" >Group difference post-treatment</text>
<rect x="505" y="38.3" width="166.9" height="333.8" fill="none" stroke="#d0d0d0" stroke-width="1.2"/>
<path d="M505,59.2 h3 M671.9,59.2 h-3" stroke="#c8c8c8" stroke-width="0.8"/>
<text x="500.8" y="57.4" font-size="11.3" font-weight="normal" fill="#222" text-anchor="end" >1.5</text>
<path d="M505,193.0 h3 M671.9,193.0 h-3" stroke="#c8c8c8" stroke-width="0.8"/>
<text x="497.6" y="197.8" font-size="11.3" font-weight="normal" fill="#222" text-anchor="end" >1</text>
<path d="M505,326.8 h3 M671.9,326.8 h-3" stroke="#c8c8c8" stroke-width="0.8"/>
<text x="500.5" y="338.4" font-size="11.3" font-weight="normal" fill="#222" text-anchor="end" >0.5</text>
<path d="M550.4,38.3 v3 M550.4,372.1 v-3" stroke="#c8c8c8" stroke-width="0.8"/>
<path d="M626.6,38.3 v3 M626.6,372.1 v-3" stroke="#c8c8c8" stroke-width="0.8"/>
<text transform="translate(484.6,250.4) rotate(-90)" font-size="12" font-weight="bold" textLength="113" lengthAdjust="spacingAndGlyphs">Connectivity values</text>
<text x="529" y="393.5" font-size="11" font-weight="bold" fill="#000" text-anchor="start" textLength="47.6" lengthAdjust="spacingAndGlyphs" >GC-MRT</text>
<text x="617.7" y="393.5" font-size="11" font-weight="bold" fill="#000" text-anchor="start" textLength="18.7" lengthAdjust="spacingAndGlyphs" >WL</text>
<path d="M550.4,177.2 V233.9 M550.4,283.9 V350.6" stroke="#707070" stroke-width="1.1" stroke-dasharray="4.2,3"/>
<rect x="527.3" y="233.9" width="46.1" height="50.0" fill="#e5f3f3" stroke="#8a8a8a" stroke-width="1.3"/>
<path d="M527.3,262.4 H573.4" stroke="#6f6f6f" stroke-width="1.2"/>
<path d="M539.2,350.6 H561.7 M539.1,177.2 H561.8" stroke="#6f6f6f" stroke-width="1.2"/>
<path d="M626.6,131.4 V200.6 M626.6,248.1 V307.6" stroke="#707070" stroke-width="1.1" stroke-dasharray="4.2,3"/>
<rect x="603.4" y="200.6" width="46.1" height="47.5" fill="#dce9e3" stroke="#8a8a8a" stroke-width="1.3"/>
<path d="M603.4,222.1 H649.5" stroke="#6f6f6f" stroke-width="1.2"/>
<path d="M615.2,307.6 H637.7 M614.9,131.4 H637.7" stroke="#6f6f6f" stroke-width="1.2"/>
<circle cx="552.3" cy="87.6" r="1.55" fill="#a4cfd0" stroke="#78aeb0" stroke-width="0.5" fill-opacity="0.9"/>
<circle cx="549.2" cy="139.8" r="1.55" fill="#a4cfd0" stroke="#78aeb0" stroke-width="0.5" fill-opacity="0.9"/>
<circle cx="558.2" cy="141.4" r="1.55" fill="#a4cfd0" stroke="#78aeb0" stroke-width="0.5" fill-opacity="0.9"/>
<circle cx="553.5" cy="177.2" r="1.55" fill="#a4cfd0" stroke="#78aeb0" stroke-width="0.5" fill-opacity="0.9"/>
<circle cx="558.3" cy="189" r="1.55" fill="#a4cfd0" stroke="#78aeb0" stroke-width="0.5" fill-opacity="0.9"/>
<circle cx="544.8" cy="192.3" r="1.55" fill="#a4cfd0" stroke="#78aeb0" stroke-width="0.5" fill-opacity="0.9"/>
<circle cx="553.5" cy="191.5" r="1.55" fill="#a4cfd0" stroke="#78aeb0" stroke-width="0.5" fill-opacity="0.9"/>
<circle cx="551.7" cy="193.6" r="1.55" fill="#a4cfd0" stroke="#78aeb0" stroke-width="0.5" fill-opacity="0.9"/>
<circle cx="549.9" cy="195.8" r="1.55" fill="#a4cfd0" stroke="#78aeb0" stroke-width="0.5" fill-opacity="0.9"/>
<circle cx="541.5" cy="196.4" r="1.55" fill="#a4cfd0" stroke="#78aeb0" stroke-width="0.5" fill-opacity="0.9"/>
<circle cx="557.3" cy="202.5" r="1.55" fill="#a4cfd0" stroke="#78aeb0" stroke-width="0.5" fill-opacity="0.9"/>
<circle cx="548.9" cy="212.7" r="1.55" fill="#a4cfd0" stroke="#78aeb0" stroke-width="0.5" fill-opacity="0.9"/>
<circle cx="551.9" cy="215" r="1.55" fill="#a4cfd0" stroke="#78aeb0" stroke-width="0.5" fill-opacity="0.9"/>
<circle cx="560.7" cy="214.9" r="1.55" fill="#a4cfd0" stroke="#78aeb0" stroke-width="0.5" fill-opacity="0.9"/>
<circle cx="554.5" cy="219" r="1.55" fill="#a4cfd0" stroke="#78aeb0" stroke-width="0.5" fill-opacity="0.9"/>
<circle cx="545.9" cy="220.9" r="1.55" fill="#a4cfd0" stroke="#78aeb0" stroke-width="0.5" fill-opacity="0.9"/>
<circle cx="548.6" cy="221.4" r="1.55" fill="#a4cfd0" stroke="#78aeb0" stroke-width="0.5" fill-opacity="0.9"/>
<circle cx="557.3" cy="221.9" r="1.55" fill="#a4cfd0" stroke="#78aeb0" stroke-width="0.5" fill-opacity="0.9"/>
<circle cx="552.5" cy="223.9" r="1.55" fill="#a4cfd0" stroke="#78aeb0" stroke-width="0.5" fill-opacity="0.9"/>
<circle cx="550.3" cy="225" r="1.55" fill="#a4cfd0" stroke="#78aeb0" stroke-width="0.5" fill-opacity="0.9"/>
<circle cx="556.8" cy="224.8" r="1.55" fill="#a4cfd0" stroke="#78aeb0" stroke-width="0.5" fill-opacity="0.9"/>
<circle cx="542.7" cy="226.5" r="1.55" fill="#a4cfd0" stroke="#78aeb0" stroke-width="0.5" fill-opacity="0.9"/>
<circle cx="552.7" cy="227.5" r="1.55" fill="#a4cfd0" stroke="#78aeb0" stroke-width="0.5" fill-opacity="0.9"/>
<circle cx="556.8" cy="227" r="1.55" fill="#a4cfd0" stroke="#78aeb0" stroke-width="0.5" fill-opacity="0.9"/>
<circle cx="551.9" cy="231.1" r="1.55" fill="#a4cfd0" stroke="#78aeb0" stroke-width="0.5" fill-opacity="0.9"/>
<circle cx="563.4" cy="232.1" r="1.55" fill="#a4cfd0" stroke="#78aeb0" stroke-width="0.5" fill-opacity="0.9"/>
<circle cx="543" cy="235.2" r="1.55" fill="#a4cfd0" stroke="#78aeb0" stroke-width="0.5" fill-opacity="0.9"/>
<circle cx="546.1" cy="235.7" r="1.55" fill="#a4cfd0" stroke="#78aeb0" stroke-width="0.5" fill-opacity="0.9"/>
<circle cx="550.7" cy="236.2" r="1.55" fill="#a4cfd0" stroke="#78aeb0" stroke-width="0.5" fill-opacity="0.9"/>
<circle cx="552.7" cy="234.7" r="1.55" fill="#a4cfd0" stroke="#78aeb0" stroke-width="0.5" fill-opacity="0.9"/>
<circle cx="547.4" cy="237.7" r="1.55" fill="#a4cfd0" stroke="#78aeb0" stroke-width="0.5" fill-opacity="0.9"/>
<circle cx="551.9" cy="238.8" r="1.55" fill="#a4cfd0" stroke="#78aeb0" stroke-width="0.5" fill-opacity="0.9"/>
<circle cx="540.2" cy="242.3" r="1.55" fill="#a4cfd0" stroke="#78aeb0" stroke-width="0.5" fill-opacity="0.9"/>
<circle cx="541.5" cy="244.4" r="1.55" fill="#a4cfd0" stroke="#78aeb0" stroke-width="0.5" fill-opacity="0.9"/>
<circle cx="537.6" cy="246.6" r="1.55" fill="#a4cfd0" stroke="#78aeb0" stroke-width="0.5" fill-opacity="0.9"/>
<circle cx="542.3" cy="248" r="1.55" fill="#a4cfd0" stroke="#78aeb0" stroke-width="0.5" fill-opacity="0.9"/>
<circle cx="553.5" cy="244.9" r="1.55" fill="#a4cfd0" stroke="#78aeb0" stroke-width="0.5" fill-opacity="0.9"/>
<circle cx="556.8" cy="246.4" r="1.55" fill="#a4cfd0" stroke="#78aeb0" stroke-width="0.5" fill-opacity="0.9"/>
<circle cx="561.4" cy="248" r="1.55" fill="#a4cfd0" stroke="#78aeb0" stroke-width="0.5" fill-opacity="0.9"/>
<circle cx="552.2" cy="251.5" r="1.55" fill="#a4cfd0" stroke="#78aeb0" stroke-width="0.5" fill-opacity="0.9"/>
<circle cx="554.7" cy="252.8" r="1.55" fill="#a4cfd0" stroke="#78aeb0" stroke-width="0.5" fill-opacity="0.9"/>
<circle cx="558.8" cy="254.6" r="1.55" fill="#a4cfd0" stroke="#78aeb0" stroke-width="0.5" fill-opacity="0.9"/>
<circle cx="541.5" cy="258.7" r="1.55" fill="#a4cfd0" stroke="#78aeb0" stroke-width="0.5" fill-opacity="0.9"/>
<circle cx="549.6" cy="257.9" r="1.55" fill="#a4cfd0" stroke="#78aeb0" stroke-width="0.5" fill-opacity="0.9"/>
<circle cx="553.7" cy="259.2" r="1.55" fill="#a4cfd0" stroke="#78aeb0" stroke-width="0.5" fill-opacity="0.9"/>
<circle cx="540.9" cy="258.9" r="1.55" fill="#a4cfd0" stroke="#78aeb0" stroke-width="0.5" fill-opacity="0.9"/>
<circle cx="552.7" cy="259.3" r="1.55" fill="#a4cfd0" stroke="#78aeb0" stroke-width="0.5" fill-opacity="0.9"/>
<circle cx="555.3" cy="259.9" r="1.55" fill="#a4cfd0" stroke="#78aeb0" stroke-width="0.5" fill-opacity="0.9"/>
<circle cx="557.3" cy="261.6" r="1.55" fill="#a4cfd0" stroke="#78aeb0" stroke-width="0.5" fill-opacity="0.9"/>
<circle cx="543.7" cy="261.6" r="1.55" fill="#a4cfd0" stroke="#78aeb0" stroke-width="0.5" fill-opacity="0.9"/>
<circle cx="537.6" cy="264.7" r="1.55" fill="#a4cfd0" stroke="#78aeb0" stroke-width="0.5" fill-opacity="0.9"/>
<circle cx="548.6" cy="264.7" r="1.55" fill="#a4cfd0" stroke="#78aeb0" stroke-width="0.5" fill-opacity="0.9"/>
<circle cx="552.5" cy="265.7" r="1.55" fill="#a4cfd0" stroke="#78aeb0" stroke-width="0.5" fill-opacity="0.9"/>
<circle cx="562.9" cy="265.7" r="1.55" fill="#a4cfd0" stroke="#78aeb0" stroke-width="0.5" fill-opacity="0.9"/>
<circle cx="549.6" cy="267.8" r="1.55" fill="#a4cfd0" stroke="#78aeb0" stroke-width="0.5" fill-opacity="0.9"/>
<circle cx="550.7" cy="269.3" r="1.55" fill="#a4cfd0" stroke="#78aeb0" stroke-width="0.5" fill-opacity="0.9"/>
<circle cx="542.7" cy="271.4" r="1.55" fill="#a4cfd0" stroke="#78aeb0" stroke-width="0.5" fill-opacity="0.9"/>
<circle cx="545.5" cy="272.4" r="1.55" fill="#a4cfd0" stroke="#78aeb0" stroke-width="0.5" fill-opacity="0.9"/>
<circle cx="558.8" cy="270.8" r="1.55" fill="#a4cfd0" stroke="#78aeb0" stroke-width="0.5" fill-opacity="0.9"/>
<circle cx="561.7" cy="270.8" r="1.55" fill="#a4cfd0" stroke="#78aeb0" stroke-width="0.5" fill-opacity="0.9"/>
<circle cx="538.4" cy="273.7" r="1.55" fill="#a4cfd0" stroke="#78aeb0" stroke-width="0.5" fill-opacity="0.9"/>
<circle cx="535.3" cy="275.2" r="1.55" fill="#a4cfd0" stroke="#78aeb0" stroke-width="0.5" fill-opacity="0.9"/>
<circle cx="547.6" cy="275.4" r="1.55" fill="#a4cfd0" stroke="#78aeb0" stroke-width="0.5" fill-opacity="0.9"/>
<circle cx="552.2" cy="273.2" r="1.55" fill="#a4cfd0" stroke="#78aeb0" stroke-width="0.5" fill-opacity="0.9"/>
<circle cx="555.3" cy="274.4" r="1.55" fill="#a4cfd0" stroke="#78aeb0" stroke-width="0.5" fill-opacity="0.9"/>
<circle cx="552.7" cy="276.5" r="1.55" fill="#a4cfd0" stroke="#78aeb0" stroke-width="0.5" fill-opacity="0.9"/>
<circle cx="544.5" cy="280.3" r="1.55" fill="#a4cfd0" stroke="#78aeb0" stroke-width="0.5" fill-opacity="0.9"/>
<circle cx="540.9" cy="282.8" r="1.55" fill="#a4cfd0" stroke="#78aeb0" stroke-width="0.5" fill-opacity="0.9"/>
<circle cx="545.3" cy="284.4" r="1.55" fill="#a4cfd0" stroke="#78aeb0" stroke-width="0.5" fill-opacity="0.9"/>
<circle cx="552.5" cy="283.8" r="1.55" fill="#a4cfd0" stroke="#78aeb0" stroke-width="0.5" fill-opacity="0.9"/>
<circle cx="552.5" cy="292" r="1.55" fill="#a4cfd0" stroke="#78aeb0" stroke-width="0.5" fill-opacity="0.9"/>
<circle cx="555.6" cy="293.8" r="1.55" fill="#a4cfd0" stroke="#78aeb0" stroke-width="0.5" fill-opacity="0.9"/>
<circle cx="555.3" cy="295.9" r="1.55" fill="#a4cfd0" stroke="#78aeb0" stroke-width="0.5" fill-opacity="0.9"/>
<circle cx="556.3" cy="297.4" r="1.55" fill="#a4cfd0" stroke="#78aeb0" stroke-width="0.5" fill-opacity="0.9"/>
<circle cx="551.5" cy="299.5" r="1.55" fill="#a4cfd0" stroke="#78aeb0" stroke-width="0.5" fill-opacity="0.9"/>
<circle cx="542" cy="305.1" r="1.55" fill="#a4cfd0" stroke="#78aeb0" stroke-width="0.5" fill-opacity="0.9"/>
<circle cx="547.1" cy="304.6" r="1.55" fill="#a4cfd0" stroke="#78aeb0" stroke-width="0.5" fill-opacity="0.9"/>
<circle cx="545.3" cy="305.9" r="1.55" fill="#a4cfd0" stroke="#78aeb0" stroke-width="0.5" fill-opacity="0.9"/>
<circle cx="562.2" cy="309.7" r="1.55" fill="#a4cfd0" stroke="#78aeb0" stroke-width="0.5" fill-opacity="0.9"/>
<circle cx="545.5" cy="311.2" r="1.55" fill="#a4cfd0" stroke="#78aeb0" stroke-width="0.5" fill-opacity="0.9"/>
<circle cx="549.6" cy="316.3" r="1.55" fill="#a4cfd0" stroke="#78aeb0" stroke-width="0.5" fill-opacity="0.9"/>
<circle cx="544.2" cy="319.9" r="1.55" fill="#a4cfd0" stroke="#78aeb0" stroke-width="0.5" fill-opacity="0.9"/>
<circle cx="546.4" cy="323.3" r="1.55" fill="#a4cfd0" stroke="#78aeb0" stroke-width="0.5" fill-opacity="0.9"/>
<circle cx="549.4" cy="325" r="1.55" fill="#a4cfd0" stroke="#78aeb0" stroke-width="0.5" fill-opacity="0.9"/>
<circle cx="549.3" cy="329.1" r="1.55" fill="#a4cfd0" stroke="#78aeb0" stroke-width="0.5" fill-opacity="0.9"/>
<circle cx="552.2" cy="333.3" r="1.55" fill="#a4cfd0" stroke="#78aeb0" stroke-width="0.5" fill-opacity="0.9"/>
<circle cx="559" cy="334.8" r="1.55" fill="#a4cfd0" stroke="#78aeb0" stroke-width="0.5" fill-opacity="0.9"/>
<circle cx="551.2" cy="344.8" r="1.55" fill="#a4cfd0" stroke="#78aeb0" stroke-width="0.5" fill-opacity="0.9"/>
<circle cx="548.9" cy="347.1" r="1.55" fill="#a4cfd0" stroke="#78aeb0" stroke-width="0.5" fill-opacity="0.9"/>
<circle cx="539.9" cy="350.5" r="1.55" fill="#a4cfd0" stroke="#78aeb0" stroke-width="0.5" fill-opacity="0.9"/>
<circle cx="546.1" cy="350.7" r="1.55" fill="#a4cfd0" stroke="#78aeb0" stroke-width="0.5" fill-opacity="0.9"/>
<circle cx="551.2" cy="365.5" r="1.55" fill="#a4cfd0" stroke="#78aeb0" stroke-width="0.5" fill-opacity="0.9"/>
<circle cx="614.7" cy="58" r="1.55" fill="#6a9c8b" stroke="#4f8070" stroke-width="0.5" fill-opacity="0.9"/>
<circle cx="621.8" cy="77.4" r="1.55" fill="#6a9c8b" stroke="#4f8070" stroke-width="0.5" fill-opacity="0.9"/>
<circle cx="626.3" cy="111.7" r="1.55" fill="#6a9c8b" stroke="#4f8070" stroke-width="0.5" fill-opacity="0.9"/>
<circle cx="627.9" cy="131.8" r="1.55" fill="#6a9c8b" stroke="#4f8070" stroke-width="0.5" fill-opacity="0.9"/>
<circle cx="633.4" cy="131.4" r="1.55" fill="#6a9c8b" stroke="#4f8070" stroke-width="0.5" fill-opacity="0.9"/>
<circle cx="623.9" cy="134.3" r="1.55" fill="#6a9c8b" stroke="#4f8070" stroke-width="0.5" fill-opacity="0.9"/>
<circle cx="642.8" cy="138.2" r="1.55" fill="#6a9c8b" stroke="#4f8070" stroke-width="0.5" fill-opacity="0.9"/>
<circle cx="618.3" cy="148.9" r="1.55" fill="#6a9c8b" stroke="#4f8070" stroke-width="0.5" fill-opacity="0.9"/>
<circle cx="630.3" cy="161.1" r="1.55" fill="#6a9c8b" stroke="#4f8070" stroke-width="0.5" fill-opacity="0.9"/>
<circle cx="629.2" cy="162.1" r="1.55" fill="#6a9c8b" stroke="#4f8070" stroke-width="0.5" fill-opacity="0.9"/>
<circle cx="629.5" cy="169" r="1.55" fill="#6a9c8b" stroke="#4f8070" stroke-width="0.5" fill-opacity="0.9"/>
<circle cx="638.6" cy="168.2" r="1.55" fill="#6a9c8b" stroke="#4f8070" stroke-width="0.5" fill-opacity="0.9"/>
<circle cx="632.5" cy="171.9" r="1.55" fill="#6a9c8b" stroke="#4f8070" stroke-width="0.5" fill-opacity="0.9"/>
<circle cx="625.7" cy="178.5" r="1.55" fill="#6a9c8b" stroke="#4f8070" stroke-width="0.5" fill-opacity="0.9"/>
<circle cx="621.4" cy="179.3" r="1.55" fill="#6a9c8b" stroke="#4f8070" stroke-width="0.5" fill-opacity="0.9"/>
<circle cx="623.1" cy="181.8" r="1.55" fill="#6a9c8b" stroke="#4f8070" stroke-width="0.5" fill-opacity="0.9"/>
<circle cx="623.6" cy="184.4" r="1.55" fill="#6a9c8b" stroke="#4f8070" stroke-width="0.5" fill-opacity="0.9"/>
<circle cx="625.1" cy="185.4" r="1.55" fill="#6a9c8b" stroke="#4f8070" stroke-width="0.5" fill-opacity="0.9"/>
<circle cx="624.6" cy="187.4" r="1.55" fill="#6a9c8b" stroke="#4f8070" stroke-width="0.5" fill-opacity="0.9"/>
<circle cx="632.3" cy="172" r="1.55" fill="#6a9c8b" stroke="#4f8070" stroke-width="0.5" fill-opacity="0.9"/>
<circle cx="625.7" cy="179" r="1.55" fill="#6a9c8b" stroke="#4f8070" stroke-width="0.5" fill-opacity="0.9"/>
<circle cx="620.5" cy="192.3" r="1.55" fill="#6a9c8b" stroke="#4f8070" stroke-width="0.5" fill-opacity="0.9"/>
<circle cx="630.3" cy="192.7" r="1.55" fill="#6a9c8b" stroke="#4f8070" stroke-width="0.5" fill-opacity="0.9"/>
<circle cx="622.4" cy="195.5" r="1.55" fill="#6a9c8b" stroke="#4f8070" stroke-width="0.5" fill-opacity="0.9"/>
<circle cx="635.7" cy="196.1" r="1.55" fill="#6a9c8b" stroke="#4f8070" stroke-width="0.5" fill-opacity="0.9"/>
<circle cx="620.8" cy="200.1" r="1.55" fill="#6a9c8b" stroke="#4f8070" stroke-width="0.5" fill-opacity="0.9"/>
<circle cx="626.9" cy="199.4" r="1.55" fill="#6a9c8b" stroke="#4f8070" stroke-width="0.5" fill-opacity="0.9"/>
<circle cx="629.7" cy="200.5" r="1.55" fill="#6a9c8b" stroke="#4f8070" stroke-width="0.5" fill-opacity="0.9"/>
<circle cx="614.6" cy="202.2" r="1.55" fill="#6a9c8b" stroke="#4f8070" stroke-width="0.5" fill-opacity="0.9"/>
<circle cx="622.6" cy="203.2" r="1.55" fill="#6a9c8b" stroke="#4f8070" stroke-width="0.5" fill-opacity="0.9"/>
<circle cx="625.1" cy="203.7" r="1.55" fill="#6a9c8b" stroke="#4f8070" stroke-width="0.5" fill-opacity="0.9"/>
<circle cx="633.3" cy="203.9" r="1.55" fill="#6a9c8b" stroke="#4f8070" stroke-width="0.5" fill-opacity="0.9"/>
<circle cx="608.8" cy="205.3" r="1.55" fill="#6a9c8b" stroke="#4f8070" stroke-width="0.5" fill-opacity="0.9"/>
<circle cx="622.1" cy="208.3" r="1.55" fill="#6a9c8b" stroke="#4f8070" stroke-width="0.5" fill-opacity="0.9"/>
<circle cx="626.5" cy="208.3" r="1.55" fill="#6a9c8b" stroke="#4f8070" stroke-width="0.5" fill-opacity="0.9"/>
<circle cx="629.7" cy="212.9" r="1.55" fill="#6a9c8b" stroke="#4f8070" stroke-width="0.5" fill-opacity="0.9"/>
<circle cx="625.7" cy="214.1" r="1.55" fill="#6a9c8b" stroke="#4f8070" stroke-width="0.5" fill-opacity="0.9"/>
<circle cx="632.3" cy="215" r="1.55" fill="#6a9c8b" stroke="#4f8070" stroke-width="0.5" fill-opacity="0.9"/>
<circle cx="636.7" cy="214.8" r="1.55" fill="#6a9c8b" stroke="#4f8070" stroke-width="0.5" fill-opacity="0.9"/>
<circle cx="640.8" cy="215.5" r="1.55" fill="#6a9c8b" stroke="#4f8070" stroke-width="0.5" fill-opacity="0.9"/>
<circle cx="626.2" cy="217" r="1.55" fill="#6a9c8b" stroke="#4f8070" stroke-width="0.5" fill-opacity="0.9"/>
<circle cx="630.8" cy="217" r="1.55" fill="#6a9c8b" stroke="#4f8070" stroke-width="0.5" fill-opacity="0.9"/>
<circle cx="619" cy="217.2" r="1.55" fill="#6a9c8b" stroke="#4f8070" stroke-width="0.5" fill-opacity="0.9"/>
<circle cx="617.3" cy="219.3" r="1.55" fill="#6a9c8b" stroke="#4f8070" stroke-width="0.5" fill-opacity="0.9"/>
<circle cx="622.8" cy="220.1" r="1.55" fill="#6a9c8b" stroke="#4f8070" stroke-width="0.5" fill-opacity="0.9"/>
<circle cx="628.5" cy="220.1" r="1.55" fill="#6a9c8b" stroke="#4f8070" stroke-width="0.5" fill-opacity="0.9"/>
<circle cx="629.7" cy="222.1" r="1.55" fill="#6a9c8b" stroke="#4f8070" stroke-width="0.5" fill-opacity="0.9"/>
<circle cx="635.4" cy="221.6" r="1.55" fill="#6a9c8b" stroke="#4f8070" stroke-width="0.5" fill-opacity="0.9"/>
<circle cx="634.3" cy="223.1" r="1.55" fill="#6a9c8b" stroke="#4f8070" stroke-width="0.5" fill-opacity="0.9"/>
<circle cx="625.7" cy="225.2" r="1.55" fill="#6a9c8b" stroke="#4f8070" stroke-width="0.5" fill-opacity="0.9"/>
<circle cx="629.7" cy="225.7" r="1.55" fill="#6a9c8b" stroke="#4f8070" stroke-width="0.5" fill-opacity="0.9"/>
<circle cx="618.3" cy="227" r="1.55" fill="#6a9c8b" stroke="#4f8070" stroke-width="0.5" fill-opacity="0.9"/>
<circle cx="622.6" cy="228.8" r="1.55" fill="#6a9c8b" stroke="#4f8070" stroke-width="0.5" fill-opacity="0.9"/>
<circle cx="627.5" cy="229.3" r="1.55" fill="#6a9c8b" stroke="#4f8070" stroke-width="0.5" fill-opacity="0.9"/>
<circle cx="637.7" cy="227.7" r="1.55" fill="#6a9c8b" stroke="#4f8070" stroke-width="0.5" fill-opacity="0.9"/>
<circle cx="618.3" cy="230.3" r="1.55" fill="#6a9c8b" stroke="#4f8070" stroke-width="0.5" fill-opacity="0.9"/>
<circle cx="620.5" cy="230.8" r="1.55" fill="#6a9c8b" stroke="#4f8070" stroke-width="0.5" fill-opacity="0.9"/>
<circle cx="626.9" cy="231.1" r="1.55" fill="#6a9c8b" stroke="#4f8070" stroke-width="0.5" fill-opacity="0.9"/>
<circle cx="634.3" cy="231.8" r="1.55" fill="#6a9c8b" stroke="#4f8070" stroke-width="0.5" fill-opacity="0.9"/>
<circle cx="628.2" cy="236.2" r="1.55" fill="#6a9c8b" stroke="#4f8070" stroke-width="0.5" fill-opacity="0.9"/>
<circle cx="628.7" cy="239" r="1.55" fill="#6a9c8b" stroke="#4f8070" stroke-width="0.5" fill-opacity="0.9"/>
<circle cx="634" cy="239.5" r="1.55" fill="#6a9c8b" stroke="#4f8070" stroke-width="0.5" fill-opacity="0.9"/>
<circle cx="621.1" cy="241.7" r="1.55" fill="#6a9c8b" stroke="#4f8070" stroke-width="0.5" fill-opacity="0.9"/>
<circle cx="625.1" cy="241.5" r="1.55" fill="#6a9c8b" stroke="#4f8070" stroke-width="0.5" fill-opacity="0.9"/>
<circle cx="630.3" cy="242.3" r="1.55" fill="#6a9c8b" stroke="#4f8070" stroke-width="0.5" fill-opacity="0.9"/>
<circle cx="640.8" cy="241.3" r="1.55" fill="#6a9c8b" stroke="#4f8070" stroke-width="0.5" fill-opacity="0.9"/>
<circle cx="622.4" cy="247.5" r="1.55" fill="#6a9c8b" stroke="#4f8070" stroke-width="0.5" fill-opacity="0.9"/>
<circle cx="627.2" cy="248.5" r="1.55" fill="#6a9c8b" stroke="#4f8070" stroke-width="0.5" fill-opacity="0.9"/>
<circle cx="629.7" cy="248.5" r="1.55" fill="#6a9c8b" stroke="#4f8070" stroke-width="0.5" fill-opacity="0.9"/>
<circle cx="634.3" cy="240" r="1.55" fill="#6a9c8b" stroke="#4f8070" stroke-width="0.5" fill-opacity="0.9"/>
<circle cx="622.8" cy="248" r="1.55" fill="#6a9c8b" stroke="#4f8070" stroke-width="0.5" fill-opacity="0.9"/>
<circle cx="627.2" cy="249.4" r="1.55" fill="#6a9c8b" stroke="#4f8070" stroke-width="0.5" fill-opacity="0.9"/>
<circle cx="630" cy="248.7" r="1.55" fill="#6a9c8b" stroke="#4f8070" stroke-width="0.5" fill-opacity="0.9"/>
<circle cx="619" cy="252.1" r="1.55" fill="#6a9c8b" stroke="#4f8070" stroke-width="0.5" fill-opacity="0.9"/>
<circle cx="616.3" cy="254.3" r="1.55" fill="#6a9c8b" stroke="#4f8070" stroke-width="0.5" fill-opacity="0.9"/>
<circle cx="623.4" cy="254.3" r="1.55" fill="#6a9c8b" stroke="#4f8070" stroke-width="0.5" fill-opacity="0.9"/>
<circle cx="623.1" cy="255.3" r="1.55" fill="#6a9c8b" stroke="#4f8070" stroke-width="0.5" fill-opacity="0.9"/>
<circle cx="645.3" cy="255.8" r="1.55" fill="#6a9c8b" stroke="#4f8070" stroke-width="0.5" fill-opacity="0.9"/>
<circle cx="622.4" cy="260.6" r="1.55" fill="#6a9c8b" stroke="#4f8070" stroke-width="0.5" fill-opacity="0.9"/>
<circle cx="634.3" cy="263.5" r="1.55" fill="#6a9c8b" stroke="#4f8070" stroke-width="0.5" fill-opacity="0.9"/>
<circle cx="638.4" cy="263.8" r="1.55" fill="#6a9c8b" stroke="#4f8070" stroke-width="0.5" fill-opacity="0.9"/>
<circle cx="633.8" cy="266.4" r="1.55" fill="#6a9c8b" stroke="#4f8070" stroke-width="0.5" fill-opacity="0.9"/>
<circle cx="629.4" cy="272.4" r="1.55" fill="#6a9c8b" stroke="#4f8070" stroke-width="0.5" fill-opacity="0.9"/>
<circle cx="618" cy="276.5" r="1.55" fill="#6a9c8b" stroke="#4f8070" stroke-width="0.5" fill-opacity="0.9"/>
<circle cx="625.5" cy="276.5" r="1.55" fill="#6a9c8b" stroke="#4f8070" stroke-width="0.5" fill-opacity="0.9"/>
<circle cx="630" cy="279.6" r="1.55" fill="#6a9c8b" stroke="#4f8070" stroke-width="0.5" fill-opacity="0.9"/>
<circle cx="621.4" cy="283.4" r="1.55" fill="#6a9c8b" stroke="#4f8070" stroke-width="0.5" fill-opacity="0.9"/>
<circle cx="627.5" cy="284.2" r="1.55" fill="#6a9c8b" stroke="#4f8070" stroke-width="0.5" fill-opacity="0.9"/>
<circle cx="622.1" cy="286.5" r="1.55" fill="#6a9c8b" stroke="#4f8070" stroke-width="0.5" fill-opacity="0.9"/>
<circle cx="624.6" cy="288.5" r="1.55" fill="#6a9c8b" stroke="#4f8070" stroke-width="0.5" fill-opacity="0.9"/>
<circle cx="626.2" cy="289.3" r="1.55" fill="#6a9c8b" stroke="#4f8070" stroke-width="0.5" fill-opacity="0.9"/>
<circle cx="623.6" cy="291.6" r="1.55" fill="#6a9c8b" stroke="#4f8070" stroke-width="0.5" fill-opacity="0.9"/>
<circle cx="620.3" cy="305.9" r="1.55" fill="#6a9c8b" stroke="#4f8070" stroke-width="0.5" fill-opacity="0.9"/>
<circle cx="633.8" cy="308" r="1.55" fill="#6a9c8b" stroke="#4f8070" stroke-width="0.5" fill-opacity="0.9"/>
<path d="M550.5,51.3 H626.4" stroke="#555" stroke-width="1.1"/>
<text x="589.5" y="50.5" font-size="9" font-weight="bold" fill="#000" text-anchor="middle" >***</text>
<text x="2.7" y="456.6" font-size="14.2" font-weight="normal" fill="#000" text-anchor="start" textLength="9.9" lengthAdjust="spacingAndGlyphs" >B</text>
<text x="65.7" y="454.5" font-size="11" font-weight="bold" fill="#000" text-anchor="start" textLength="442.6" lengthAdjust="spacingAndGlyphs" >Weighted node degree of parcels showing group differences post-treatment</text>
<text transform="translate(8.9,700.2) rotate(-90)" font-size="11.5" font-weight="bold" textLength="131" lengthAdjust="spacingAndGlyphs">Weighted node degree</text>
<rect x="57.60" y="502.03" width="25.1" height="272.77" fill="#8c6357" stroke="#3a3a3a" stroke-width="1.1"/>
<rect x="88.77" y="559.59" width="25.1" height="215.21" fill="#b07462" stroke="#3a3a3a" stroke-width="1.1"/>
<rect x="119.94" y="563.83" width="25.1" height="210.97" fill="#d27f66" stroke="#3a3a3a" stroke-width="1.1"/>
<rect x="151.11" y="597.43" width="25.1" height="177.37" fill="#d8907b" stroke="#3a3a3a" stroke-width="1.1"/>
<rect x="182.28" y="628.48" width="25.1" height="146.32" fill="#e0a292" stroke="#3a3a3a" stroke-width="1.1"/>
<rect x="213.45" y="633.59" width="25.1" height="141.21" fill="#e5b29a" stroke="#3a3a3a" stroke-width="1.1"/>
<rect x="244.62" y="656.39" width="25.1" height="118.41" fill="#e4c7a3" stroke="#3a3a3a" stroke-width="1.1"/>
<rect x="275.79" y="696.42" width="25.1" height="78.38" fill="#e6d6aa" stroke="#3a3a3a" stroke-width="1.1"/>
<rect x="306.96" y="700.58" width="25.1" height="74.22" fill="#efe6c0" stroke="#3a3a3a" stroke-width="1.1"/>
<rect x="338.13" y="704.82" width="25.1" height="69.98" fill="#f5f8d8" stroke="#3a3a3a" stroke-width="1.1"/>
<rect x="369.30" y="706.43" width="25.1" height="68.37" fill="#e2ecce" stroke="#3a3a3a" stroke-width="1.1"/>
<rect x="400.47" y="707.52" width="25.1" height="67.28" fill="#cde2c6" stroke="#3a3a3a" stroke-width="1.1"/>
<rect x="431.64" y="709.20" width="25.1" height="65.60" fill="#b3d5bf" stroke="#3a3a3a" stroke-width="1.1"/>
<rect x="462.81" y="713.22" width="25.1" height="61.58" fill="#9dc8b5" stroke="#3a3a3a" stroke-width="1.1"/>
<rect x="493.98" y="720.38" width="25.1" height="54.42" fill="#63b3a5" stroke="#3a3a3a" stroke-width="1.1"/>
<path d="M42,738.27 H552.7" stroke="#8c8c8c" stroke-opacity="0.5" stroke-width="1.2" stroke-dasharray="4.9,3.71" stroke-dashoffset="-4.69"/>
<text x="37.8" y="742.0749999999999" font-size="10.5" font-weight="normal" fill="#333" text-anchor="end" >0.5</text>
<path d="M41.5,738.27 h5" stroke="#555" stroke-width="0.9"/>
<path d="M42,701.75 H552.7" stroke="#8c8c8c" stroke-opacity="0.5" stroke-width="1.2" stroke-dasharray="4.9,3.71" stroke-dashoffset="-4.69"/>
<text x="37.8" y="705.55" font-size="10.5" font-weight="normal" fill="#333" text-anchor="end" >1</text>
<path d="M41.5,701.75 h5" stroke="#555" stroke-width="0.9"/>
<path d="M42,665.22 H552.7" stroke="#8c8c8c" stroke-opacity="0.5" stroke-width="1.2" stroke-dasharray="4.9,3.71" stroke-dashoffset="-4.69"/>
<text x="37.8" y="669.0249999999999" font-size="10.5" font-weight="normal" fill="#333" text-anchor="end" >1.5</text>
<path d="M41.5,665.22 h5" stroke="#555" stroke-width="0.9"/>
<path d="M42,628.70 H552.7" stroke="#8c8c8c" stroke-opacity="0.5" stroke-width="1.2" stroke-dasharray="4.9,3.71" stroke-dashoffset="-4.69"/>
<text x="37.8" y="632.4999999999999" font-size="10.5" font-weight="normal" fill="#333" text-anchor="end" >2</text>
<path d="M41.5,628.70 h5" stroke="#555" stroke-width="0.9"/>
<path d="M42,592.17 H552.7" stroke="#8c8c8c" stroke-opacity="0.5" stroke-width="1.2" stroke-dasharray="4.9,3.71" stroke-dashoffset="-4.69"/>
<text x="37.8" y="595.9749999999999" font-size="10.5" font-weight="normal" fill="#333" text-anchor="end" >2.5</text>
<path d="M41.5,592.17 h5" stroke="#555" stroke-width="0.9"/>
<path d="M42,555.65 H552.7" stroke="#8c8c8c" stroke-opacity="0.5" stroke-width="1.2" stroke-dasharray="4.9,3.71" stroke-dashoffset="-4.69"/>
<text x="37.8" y="559.4499999999999" font-size="10.5" font-weight="normal" fill="#333" text-anchor="end" >3</text>
<path d="M41.5,555.65 h5" stroke="#555" stroke-width="0.9"/>
<path d="M42,519.12 H552.7" stroke="#8c8c8c" stroke-opacity="0.5" stroke-width="1.2" stroke-dasharray="4.9,3.71" stroke-dashoffset="-4.69"/>
<text x="37.8" y="522.925" font-size="10.5" font-weight="normal" fill="#333" text-anchor="end" >3.5</text>
<path d="M41.5,519.12 h5" stroke="#555" stroke-width="0.9"/>
<path d="M42,482.60 H552.7" stroke="#8c8c8c" stroke-opacity="0.5" stroke-width="1.2" stroke-dasharray="4.9,3.71" stroke-dashoffset="-4.69"/>
<text x="37.8" y="486.4" font-size="10.5" font-weight="normal" fill="#333" text-anchor="end" >4</text>
<path d="M41.5,482.60 h5" stroke="#555" stroke-width="0.9"/>
<path d="M41.6,482.7 V775.4" stroke="#7a7a7a" stroke-width="1.1"/>
<path d="M41,775.3 H552.7" stroke="#a0a0a0" stroke-width="1.3"/>
<path d="M70.15,775 v-5" stroke="#333" stroke-width="0.9"/>
<text x="70.15" y="789.4" font-size="11" font-weight="normal" fill="#222" text-anchor="middle" >20</text>
<path d="M101.32,775 v-5" stroke="#333" stroke-width="0.9"/>
<text x="101.32" y="789.4" font-size="11" font-weight="normal" fill="#222" text-anchor="middle" >71</text>
<path d="M132.49,775 v-5" stroke="#333" stroke-width="0.9"/>
<text x="132.49" y="789.4" font-size="11" font-weight="normal" fill="#222" text-anchor="middle" >72</text>
<path d="M163.66,775 v-5" stroke="#333" stroke-width="0.9"/>
<text x="163.66" y="789.4" font-size="11" font-weight="normal" fill="#222" text-anchor="middle" >67</text>
<path d="M194.83,775 v-5" stroke="#333" stroke-width="0.9"/>
<text x="194.83" y="789.4" font-size="11" font-weight="normal" fill="#222" text-anchor="middle" >19</text>
<path d="M226.00,775 v-5" stroke="#333" stroke-width="0.9"/>
<text x="226.00" y="789.4" font-size="11" font-weight="normal" fill="#222" text-anchor="middle" >22</text>
<path d="M257.17,775 v-5" stroke="#333" stroke-width="0.9"/>
<text x="257.17" y="789.4" font-size="11" font-weight="normal" fill="#222" text-anchor="middle" >69</text>
<path d="M288.34,775 v-5" stroke="#333" stroke-width="0.9"/>
<text x="288.34" y="789.4" font-size="11" font-weight="normal" fill="#222" text-anchor="middle" >70</text>
<path d="M319.51,775 v-5" stroke="#333" stroke-width="0.9"/>
<text x="319.51" y="789.4" font-size="11" font-weight="normal" fill="#222" text-anchor="middle" >16</text>
<path d="M350.68,775 v-5" stroke="#333" stroke-width="0.9"/>
<text x="350.68" y="789.4" font-size="11" font-weight="normal" fill="#222" text-anchor="middle" >21</text>
<path d="M381.85,775 v-5" stroke="#333" stroke-width="0.9"/>
<text x="381.85" y="789.4" font-size="11" font-weight="normal" fill="#222" text-anchor="middle" >18</text>
<path d="M413.02,775 v-5" stroke="#333" stroke-width="0.9"/>
<text x="413.02" y="789.4" font-size="11" font-weight="normal" fill="#222" text-anchor="middle" >23</text>
<path d="M444.19,775 v-5" stroke="#333" stroke-width="0.9"/>
<text x="444.19" y="789.4" font-size="11" font-weight="normal" fill="#222" text-anchor="middle" >17</text>
<path d="M475.36,775 v-5" stroke="#333" stroke-width="0.9"/>
<text x="475.36" y="789.4" font-size="11" font-weight="normal" fill="#222" text-anchor="middle" >68</text>
<path d="M506.53,775 v-5" stroke="#333" stroke-width="0.9"/>
<text x="506.53" y="789.4" font-size="11" font-weight="normal" fill="#222" text-anchor="middle" >73</text>
<g filter="url(#hz)" opacity="0.55"><rect x="60" y="797" width="460" height="18" fill="#bdbdbd"/></g>
<g filter="url(#hz)" opacity="0.3"><rect x="60" y="818" width="460" height="6" fill="#c8c8c8"/></g>
<g filter="url(#hz)" opacity="0.4" fill="#9a9a9a"><ellipse cx="72.6" cy="823" rx="11" ry="4.5"/><ellipse cx="103.8" cy="823" rx="11" ry="4.5"/><ellipse cx="134.9" cy="823" rx="11" ry="4.5"/><ellipse cx="166.1" cy="823" rx="11" ry="4.5"/><ellipse cx="197.3" cy="823" rx="11" ry="4.5"/><ellipse cx="228.5" cy="823" rx="11" ry="4.5"/><ellipse cx="259.6" cy="823" rx="11" ry="4.5"/><ellipse cx="290.8" cy="823" rx="11" ry="4.5"/><ellipse cx="322.0" cy="823" rx="11" ry="4.5"/><ellipse cx="353.1" cy="823" rx="11" ry="4.5"/><ellipse cx="384.3" cy="823" rx="11" ry="4.5"/><ellipse cx="415.5" cy="823" rx="11" ry="4.5"/><ellipse cx="446.6" cy="823" rx="11" ry="4.5"/><ellipse cx="477.8" cy="823" rx="11" ry="4.5"/><ellipse cx="509.0" cy="823" rx="11" ry="4.5"/></g>
<path d="M48,816.6 H530" stroke="#fafafa" stroke-width="1.2"/>
<g filter="url(#shs)" opacity="0.45"><g transform="translate(4,3)"><g transform="translate(81.40,796.00) scale(-0.2250,0.1750)" fill="#333"><use href="#medO"/><use href="#medCb"/><use href="#medBs"/></g></g></g>
<g transform="translate(81.40,796.00) scale(-0.2250,0.1750)">
<use href="#medCb" fill="#cfcfcf" stroke="#777" stroke-width="2.5"/>
<use href="#medBs" fill="#d8d8d8" stroke="#777" stroke-width="2.2"/>
<use href="#medO" fill="#e2e2e2" stroke="#6a6a6a" stroke-width="2.8"/>
<use href="#medO" filter="url(#gy2)" opacity="0.55"/>
<use href="#medCC" fill="#f2f2f2" stroke="#888" stroke-width="2"/>
</g>
<ellipse cx="64.60" cy="798.80" rx="2.75" ry="1.9" transform="rotate(0 64.60 798.80)" fill="#4fd130"/>
<g filter="url(#shs)" opacity="0.45"><g transform="translate(4,3)"><g transform="translate(112.57,796.00) scale(-0.2250,0.1750)" fill="#333"><use href="#latO"/><use href="#latCb"/></g></g></g>
<g transform="translate(112.57,796.00) scale(-0.2250,0.1750)">
<use href="#latCb" fill="#dcdcdc" stroke="#777" stroke-width="2.5"/>
<use href="#latO" fill="#e4e4e4" stroke="#6a6a6a" stroke-width="2.8"/>
<use href="#latO" filter="url(#gy)" opacity="0.55"/>
</g>
<ellipse cx="93.30" cy="803.20" rx="2.0" ry="3.0" transform="rotate(0 93.30 803.20)" fill="#4fd130"/>
<g filter="url(#shs)" opacity="0.45"><g transform="translate(4,3)"><g transform="translate(121.24,796.00) scale(0.2250,0.1750)" fill="#333"><use href="#medO"/><use href="#medCb"/><use href="#medBs"/></g></g></g>
<g transform="translate(121.24,796.00) scale(0.2250,0.1750)">
<use href="#medCb" fill="#cfcfcf" stroke="#777" stroke-width="2.5"/>
<use href="#medBs" fill="#d8d8d8" stroke="#777" stroke-width="2.2"/>
<use href="#medO" fill="#e2e2e2" stroke="#6a6a6a" stroke-width="2.8"/>
<use href="#medO" filter="url(#gy2)" opacity="0.55"/>
<use href="#medCC" fill="#f2f2f2" stroke="#888" stroke-width="2"/>
</g>
<ellipse cx="136.40" cy="798.20" rx="2.5" ry="2.0" transform="rotate(0 136.40 798.20)" fill="#4fd130"/>
<g filter="url(#shs)" opacity="0.45"><g transform="translate(4,3)"><g transform="translate(152.41,796.00) scale(0.2250,0.1750)" fill="#333"><use href="#latO"/><use href="#latCb"/></g></g></g>
<g transform="translate(152.41,796.00) scale(0.2250,0.1750)">
<use href="#latCb" fill="#dcdcdc" stroke="#777" stroke-width="2.5"/>
<use href="#latO" fill="#e4e4e4" stroke="#6a6a6a" stroke-width="2.8"/>
<use href="#latO" filter="url(#gy)" opacity="0.55"/>
</g>
<ellipse cx="164.60" cy="799.00" rx="1.6" ry="2.75" transform="rotate(30 164.60 799.00)" fill="#4fd130"/>
<g filter="url(#shs)" opacity="0.45"><g transform="translate(4,3)"><g transform="translate(183.58,796.00) scale(0.2250,0.1750)" fill="#333"><use href="#medO"/><use href="#medCb"/><use href="#medBs"/></g></g></g>
<g transform="translate(183.58,796.00) scale(0.2250,0.1750)">
<use href="#medCb" fill="#cfcfcf" stroke="#777" stroke-width="2.5"/>
<use href="#medBs" fill="#d8d8d8" stroke="#777" stroke-width="2.2"/>
<use href="#medO" fill="#e2e2e2" stroke="#6a6a6a" stroke-width="2.8"/>
<use href="#medO" filter="url(#gy2)" opacity="0.55"/>
<use href="#medCC" fill="#f2f2f2" stroke="#888" stroke-width="2"/>
</g>
<ellipse cx="191.30" cy="797.80" rx="2.75" ry="1.75" transform="rotate(0 191.30 797.80)" fill="#4fd130"/>
<g filter="url(#shs)" opacity="0.45"><g transform="translate(4,3)"><g transform="translate(214.75,796.00) scale(0.2250,0.1750)" fill="#333"><use href="#latO"/><use href="#latCb"/></g></g></g>
<g transform="translate(214.75,796.00) scale(0.2250,0.1750)">
<use href="#latCb" fill="#dcdcdc" stroke="#777" stroke-width="2.5"/>
<use href="#latO" fill="#e4e4e4" stroke="#6a6a6a" stroke-width="2.8"/>
<use href="#latO" filter="url(#gy)" opacity="0.55"/>
</g>
<ellipse cx="225.70" cy="798.00" rx="2.0" ry="2.0" transform="rotate(0 225.70 798.00)" fill="#4fd130"/>
<g filter="url(#shs)" opacity="0.45"><g transform="translate(4,3)"><g transform="translate(268.42,796.00) scale(-0.2250,0.1750)" fill="#333"><use href="#latO"/><use href="#latCb"/></g></g></g>
<g transform="translate(268.42,796.00) scale(-0.2250,0.1750)">
<use href="#latCb" fill="#dcdcdc" stroke="#777" stroke-width="2.5"/>
<use href="#latO" fill="#e4e4e4" stroke="#6a6a6a" stroke-width="2.8"/>
<use href="#latO" filter="url(#gy)" opacity="0.55"/>
</g>
<ellipse cx="261.90" cy="802.50" rx="1.5" ry="4.0" transform="rotate(-15 261.90 802.50)" fill="#4fd130"/>
<g filter="url(#shs)" opacity="0.45"><g transform="translate(4,3)"><g transform="translate(277.09,796.00) scale(0.2250,0.1750)" fill="#333"><use href="#latO"/><use href="#latCb"/></g></g></g>
<g transform="translate(277.09,796.00) scale(0.2250,0.1750)">
<use href="#latCb" fill="#dcdcdc" stroke="#777" stroke-width="2.5"/>
<use href="#latO" fill="#e4e4e4" stroke="#6a6a6a" stroke-width="2.8"/>
<use href="#latO" filter="url(#gy)" opacity="0.55"/>
</g>
<ellipse cx="292.30" cy="807.60" rx="3.25" ry="2.0" transform="rotate(-25 292.30 807.60)" fill="#4fd130"/>
<g filter="url(#shs)" opacity="0.45"><g transform="translate(4,3)"><g transform="translate(308.26,796.00) scale(0.2250,0.1750)" fill="#333"><use href="#latO"/><use href="#latCb"/></g></g></g>
<g transform="translate(308.26,796.00) scale(0.2250,0.1750)">
<use href="#latCb" fill="#dcdcdc" stroke="#777" stroke-width="2.5"/>
<use href="#latO" fill="#e4e4e4" stroke="#6a6a6a" stroke-width="2.8"/>
<use href="#latO" filter="url(#gy)" opacity="0.55"/>
</g>
<ellipse cx="314.00" cy="799.50" rx="2.0" ry="1.75" transform="rotate(0 314.00 799.50)" fill="#4fd130"/>
<g filter="url(#shs)" opacity="0.45"><g transform="translate(4,3)"><g transform="translate(339.43,796.00) scale(0.2250,0.1750)" fill="#333"><use href="#medO"/><use href="#medCb"/><use href="#medBs"/></g></g></g>
<g transform="translate(339.43,796.00) scale(0.2250,0.1750)">
<use href="#medCb" fill="#cfcfcf" stroke="#777" stroke-width="2.5"/>
<use href="#medBs" fill="#d8d8d8" stroke="#777" stroke-width="2.2"/>
<use href="#medO" fill="#e2e2e2" stroke="#6a6a6a" stroke-width="2.8"/>
<use href="#medO" filter="url(#gy2)" opacity="0.55"/>
<use href="#medCC" fill="#f2f2f2" stroke="#888" stroke-width="2"/>
</g>
<ellipse cx="355.00" cy="797.80" rx="2.25" ry="1.6" transform="rotate(0 355.00 797.80)" fill="#4fd130"/>
<g filter="url(#shs)" opacity="0.45"><g transform="translate(4,3)"><g transform="translate(393.10,796.00) scale(-0.2250,0.1750)" fill="#333"><use href="#latO"/><use href="#latCb"/></g></g></g>
<g transform="translate(393.10,796.00) scale(-0.2250,0.1750)">
<use href="#latCb" fill="#dcdcdc" stroke="#777" stroke-width="2.5"/>
<use href="#latO" fill="#e4e4e4" stroke="#6a6a6a" stroke-width="2.8"/>
<use href="#latO" filter="url(#gy)" opacity="0.55"/>
</g>
<ellipse cx="380.20" cy="800.20" rx="1.6" ry="2.5" transform="rotate(20 380.20 800.20)" fill="#4fd130"/>
<g filter="url(#shs)" opacity="0.45"><g transform="translate(4,3)"><g transform="translate(401.77,796.00) scale(0.2250,0.1750)" fill="#333"><use href="#medO"/><use href="#medCb"/><use href="#medBs"/></g></g></g>
<g transform="translate(401.77,796.00) scale(0.2250,0.1750)">
<use href="#medCb" fill="#cfcfcf" stroke="#777" stroke-width="2.5"/>
<use href="#medBs" fill="#d8d8d8" stroke="#777" stroke-width="2.2"/>
<use href="#medO" fill="#e2e2e2" stroke="#6a6a6a" stroke-width="2.8"/>
<use href="#medO" filter="url(#gy2)" opacity="0.55"/>
<use href="#medCC" fill="#f2f2f2" stroke="#888" stroke-width="2"/>
</g>
<ellipse cx="417.60" cy="799.60" rx="2.0" ry="2.1" transform="rotate(0 417.60 799.60)" fill="#4fd130"/>
<g filter="url(#shs)" opacity="0.45"><g transform="translate(4,3)"><g transform="translate(432.94,796.00) scale(0.2250,0.1750)" fill="#333"><use href="#medO"/><use href="#medCb"/><use href="#medBs"/></g></g></g>
<g transform="translate(432.94,796.00) scale(0.2250,0.1750)">
<use href="#medCb" fill="#cfcfcf" stroke="#777" stroke-width="2.5"/>
<use href="#medBs" fill="#d8d8d8" stroke="#777" stroke-width="2.2"/>
<use href="#medO" fill="#e2e2e2" stroke="#6a6a6a" stroke-width="2.8"/>
<use href="#medO" filter="url(#gy2)" opacity="0.55"/>
<use href="#medCC" fill="#f2f2f2" stroke="#888" stroke-width="2"/>
</g>
<ellipse cx="434.50" cy="800.20" rx="2.1" ry="2.0" transform="rotate(0 434.50 800.20)" fill="#4fd130"/>
<g filter="url(#shs)" opacity="0.45"><g transform="translate(4,3)"><g transform="translate(464.11,796.00) scale(0.2250,0.1750)" fill="#333"><use href="#medO"/><use href="#medCb"/><use href="#medBs"/></g></g></g>
<g transform="translate(464.11,796.00) scale(0.2250,0.1750)">
<use href="#medCb" fill="#cfcfcf" stroke="#777" stroke-width="2.5"/>
<use href="#medBs" fill="#d8d8d8" stroke="#777" stroke-width="2.2"/>
<use href="#medO" fill="#e2e2e2" stroke="#6a6a6a" stroke-width="2.8"/>
<use href="#medO" filter="url(#gy2)" opacity="0.55"/>
<use href="#medCC" fill="#f2f2f2" stroke="#888" stroke-width="2"/>
</g>
<ellipse cx="476.00" cy="798.30" rx="2.25" ry="1.6" transform="rotate(0 476.00 798.30)" fill="#4fd130"/>
<g filter="url(#shs)" opacity="0.45"><g transform="translate(4,3)"><g transform="translate(517.78,796.00) scale(-0.2250,0.1750)" fill="#333"><use href="#latO"/><use href="#latCb"/></g></g></g>
<g transform="translate(517.78,796.00) scale(-0.2250,0.1750)">
<use href="#latCb" fill="#dcdcdc" stroke="#777" stroke-width="2.5"/>
<use href="#latO" fill="#e4e4e4" stroke="#6a6a6a" stroke-width="2.8"/>
<use href="#latO" filter="url(#gy)" opacity="0.55"/>
</g>
<ellipse cx="503.10" cy="801.30" rx="1.5" ry="3.5" transform="rotate(10 503.10 801.30)" fill="#4fd130"/>
</svg>
</body></html>
